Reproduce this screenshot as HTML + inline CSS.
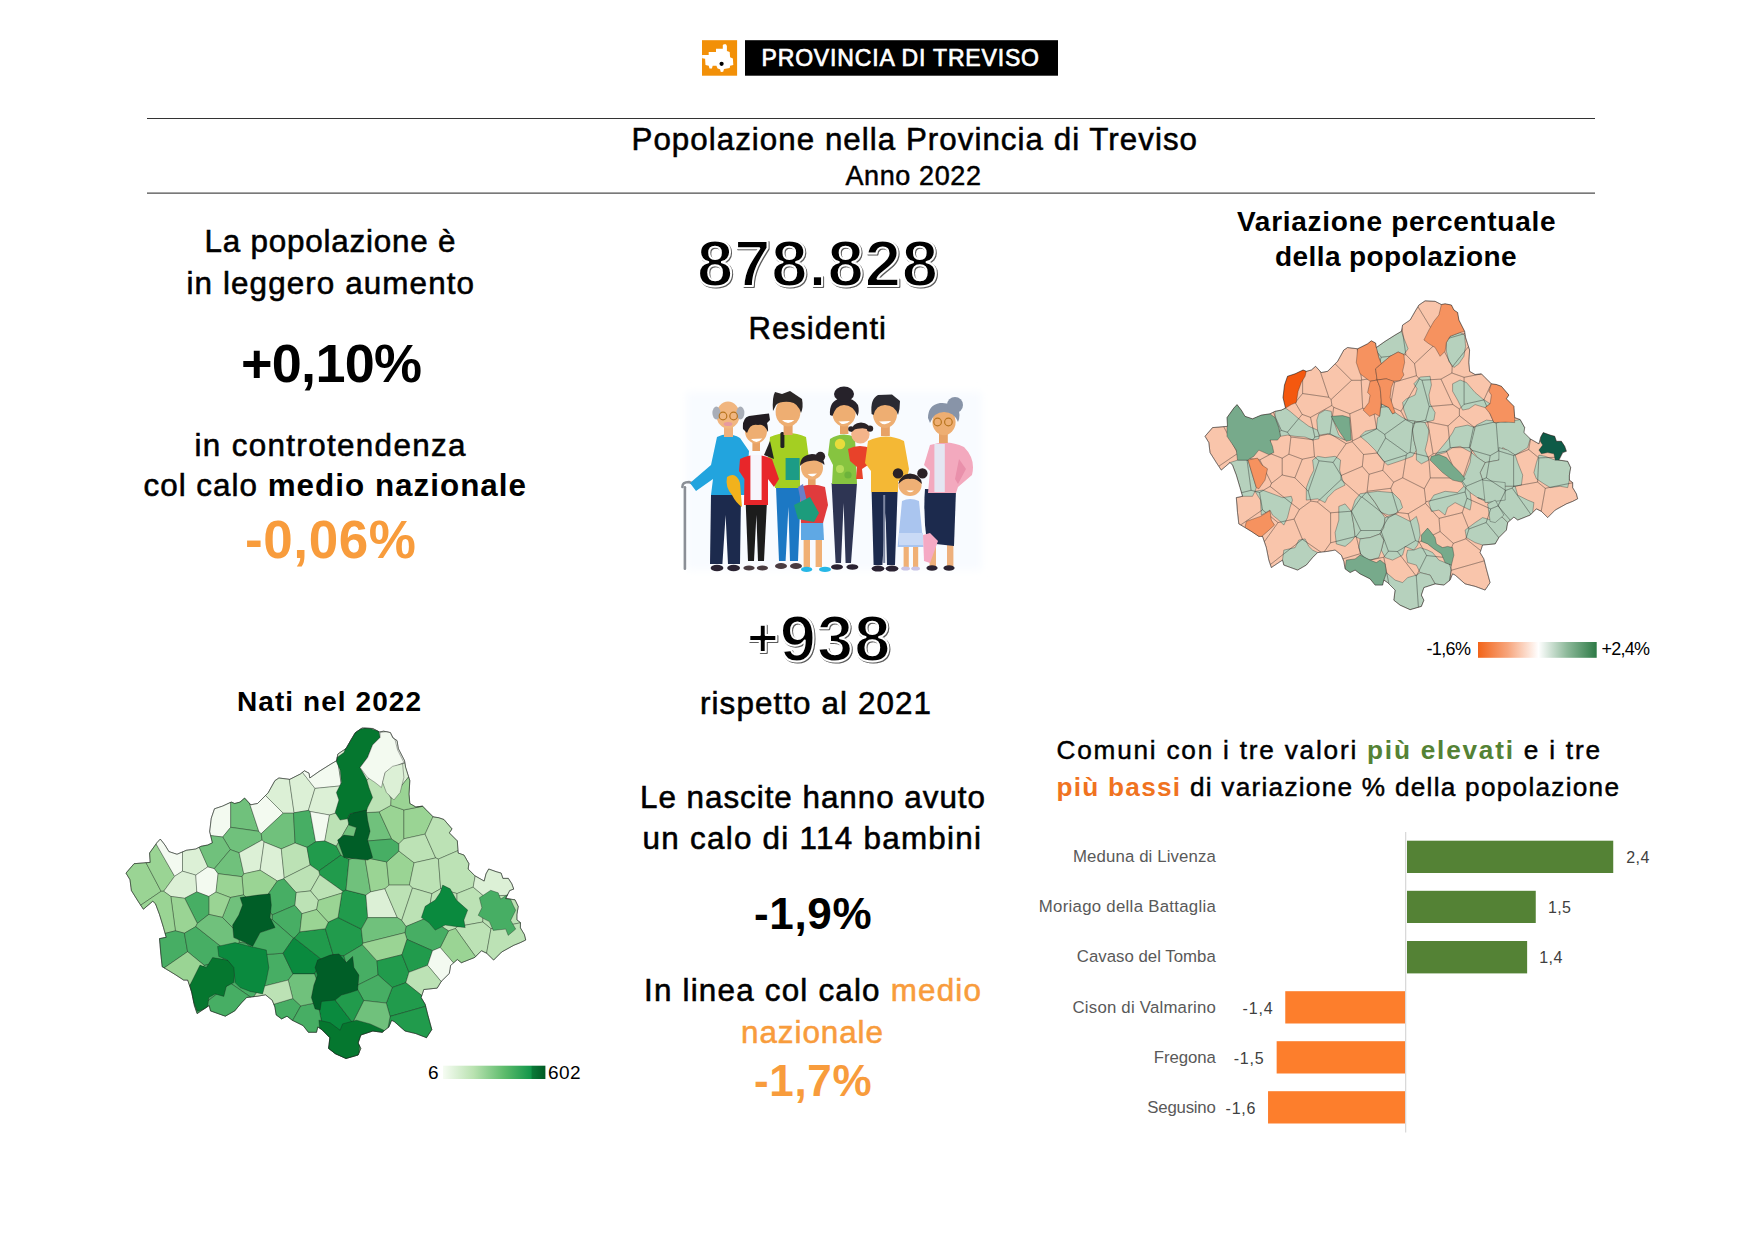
<!DOCTYPE html>
<html lang="it">
<head>
<meta charset="utf-8">
<title>Popolazione nella Provincia di Treviso - Anno 2022</title>
<style>
html,body{margin:0;padding:0;background:#fff;}
body{width:1755px;height:1240px;overflow:hidden;}
svg{display:block;}
text{font-family:"Liberation Sans","DejaVu Sans",sans-serif;white-space:pre;}
.sh{stroke:#fff;stroke-width:2px;stroke-linejoin:round;filter:drop-shadow(1.8px 1.8px 0.6px rgba(50,50,50,.8));}
</style>
</head>
<body>
<svg width="1755" height="1240" viewBox="0 0 1755 1240">
<rect x="702.00" y="40.20" width="35.10" height="35.50" fill="#f29008"/>
<polygon points="702.1,55.0 708.7,55.0 708.7,52.0 716.0,52.0 716.0,48.7 722.8,48.7 722.8,45.1 724.0,44.3 726.0,44.3 726.9,45.9 726.9,51.1 729.7,52.0 730.1,57.2 732.9,58.4 733.3,64.9 730.1,65.7 729.7,68.1 724.0,68.9 723.2,71.7 720.8,72.1 720.0,69.3 717.6,68.5 716.4,65.7 712.7,65.7 711.9,68.5 709.5,68.5 708.7,65.7 705.5,64.9 705.1,58.8 702.1,58.2" fill="#fff"/>
<circle cx="721.6" cy="63.8" r="2.1" fill="#000"/>
<rect x="745.00" y="40.20" width="313.00" height="35.50" fill="#000"/>
<text x="761.5" y="66.4" font-size="23" textLength="277.5" lengthAdjust="spacing" fill="#fff" stroke="#fff" stroke-width="0.7">PROVINCIA DI TREVISO</text>
<rect x="147.00" y="118.00" width="1448.00" height="1.00" fill="#333"/>
<rect x="147.00" y="192.60" width="1448.00" height="1.00" fill="#222"/>
<text x="631.5" y="150.0" font-size="31.3" textLength="565.5" lengthAdjust="spacing" stroke="#000" stroke-width="0.56">Popolazione nella Provincia di Treviso</text>
<text x="845.5" y="185.0" font-size="27" textLength="135.5" lengthAdjust="spacing" stroke="#000" stroke-width="0.49">Anno 2022</text>
<text x="204.5" y="252.0" font-size="31.4" textLength="251.0" lengthAdjust="spacing" stroke="#000" stroke-width="0.57">La popolazione è</text>
<text x="186.5" y="294.0" font-size="31.4" textLength="287.5" lengthAdjust="spacing" stroke="#000" stroke-width="0.57">in leggero aumento</text>
<text x="241.0" y="381.6" font-size="54" textLength="181.0" lengthAdjust="spacing" font-weight="bold">+0,10%</text>
<text x="194.5" y="455.7" font-size="31.4" textLength="271.0" lengthAdjust="spacing" stroke="#000" stroke-width="0.57">in controtendenza</text>
<text x="143.5" y="495.6" font-size="31.4" textLength="382.5" lengthAdjust="spacing" stroke="#000" stroke-width="0.57">col calo <tspan font-weight="bold" stroke="none">medio nazionale</tspan></text>
<text x="245.0" y="557.5" font-size="53" textLength="171.0" lengthAdjust="spacing" font-weight="bold" fill="#f89c3c">-0,06%</text>
<text x="237.0" y="710.8" font-size="28" textLength="184.0" lengthAdjust="spacing" font-weight="bold">Nati nel 2022</text>
<text x="697.0" y="286.0" font-size="65" textLength="241.0" lengthAdjust="spacing" font-weight="bold" class="sh">878.828</text>
<text x="748.5" y="339.4" font-size="31" textLength="137.5" lengthAdjust="spacing" stroke="#000" stroke-width="0.56">Residenti</text>
<text x="747.0" y="660.5" font-size="65" textLength="143.5" lengthAdjust="spacing" font-weight="bold" class="sh"><tspan font-size="54" dy="-5">+</tspan><tspan dy="5">938</tspan></text>
<text x="700.0" y="713.8" font-size="31.4" textLength="231.0" lengthAdjust="spacing" stroke="#000" stroke-width="0.57">rispetto al 2021</text>
<text x="640.0" y="807.5" font-size="31.4" textLength="345.0" lengthAdjust="spacing" stroke="#000" stroke-width="0.57">Le nascite hanno avuto</text>
<text x="642.5" y="849.0" font-size="31.4" textLength="338.5" lengthAdjust="spacing" stroke="#000" stroke-width="0.57">un calo di 114 bambini</text>
<text x="754.0" y="928.8" font-size="44" textLength="117.5" lengthAdjust="spacing" font-weight="bold">-1,9%</text>
<text x="644.0" y="1000.5" font-size="31.4" textLength="337.0" lengthAdjust="spacing" stroke="#000" stroke-width="0.57">In linea col calo <tspan fill="#f89c3c" stroke="#f89c3c">medio</tspan></text>
<text x="741.0" y="1042.5" font-size="31.4" textLength="142.0" lengthAdjust="spacing" fill="#f89c3c" stroke="#f89c3c" stroke-width="0.57">nazionale</text>
<text x="754.0" y="1096.0" font-size="44" textLength="117.5" lengthAdjust="spacing" font-weight="bold" fill="#f89c3c">-1,7%</text>
<text x="1237.0" y="230.5" font-size="28" textLength="318.5" lengthAdjust="spacing" font-weight="bold">Variazione percentuale</text>
<text x="1275.0" y="265.5" font-size="28" textLength="241.5" lengthAdjust="spacing" font-weight="bold">della popolazione</text>
<defs><linearGradient id="gv" x1="0" x2="1" y1="0" y2="0"><stop offset="0" stop-color="#f26419"/><stop offset="0.25" stop-color="#f7a57c"/><stop offset="0.51" stop-color="#ffffff"/><stop offset="0.75" stop-color="#8db99a"/><stop offset="1" stop-color="#2d7a46"/></linearGradient><linearGradient id="gn" x1="0" x2="1" y1="0" y2="0"><stop offset="0" stop-color="#f6fcf3"/><stop offset="0.3" stop-color="#b9e2b0"/><stop offset="0.6" stop-color="#5dbb6c"/><stop offset="0.86" stop-color="#12964a"/><stop offset="0.87" stop-color="#0b7a38"/><stop offset="1" stop-color="#005a24"/></linearGradient></defs>
<rect x="1478" y="642" width="118.7" height="15.8" fill="url(#gv)"/>
<text x="1426.5" y="654.6" font-size="18" textLength="44.5" lengthAdjust="spacing">-1,6%</text>
<text x="1601.5" y="654.6" font-size="18" textLength="48.5" lengthAdjust="spacing">+2,4%</text>
<rect x="443" y="1065.7" width="102.4" height="13.3" fill="url(#gn)"/>
<text x="428.0" y="1078.9" font-size="19" textLength="10.2" lengthAdjust="spacing">6</text>
<text x="548.0" y="1078.9" font-size="19" textLength="32.5" lengthAdjust="spacing">602</text>
<text x="1056.5" y="758.8" font-size="26.2" textLength="543.5" lengthAdjust="spacing" stroke="#000" stroke-width="0.47">Comuni con i tre valori <tspan fill="#548235" font-weight="bold" stroke="none">più elevati</tspan> e i tre</text>
<text x="1056.5" y="796.3" font-size="26.2" textLength="562.5" lengthAdjust="spacing" stroke="#000" stroke-width="0.47"><tspan fill="#f0731f" font-weight="bold" stroke="none">più bassi</tspan> di variazione % della popolazione</text>
<rect x="1405.00" y="832.00" width="1.30" height="300.50" fill="#d9d9d9"/>
<rect x="1407.00" y="840.70" width="206.24" height="32.30" fill="#548235"/>
<rect x="1407.00" y="890.80" width="128.75" height="32.20" fill="#548235"/>
<rect x="1407.00" y="941.00" width="120.14" height="32.40" fill="#548235"/>
<rect x="1285.26" y="991.20" width="119.74" height="32.30" fill="#fd7e2c"/>
<rect x="1276.65" y="1041.20" width="128.35" height="32.30" fill="#fd7e2c"/>
<rect x="1268.04" y="1091.20" width="136.96" height="32.30" fill="#fd7e2c"/>
<text x="1073.0" y="862.0" font-size="16.8" textLength="142.8" lengthAdjust="spacing" fill="#595959">Meduna di Livenza</text>
<text x="1038.8" y="912.0" font-size="16.8" textLength="177.0" lengthAdjust="spacing" fill="#595959">Moriago della Battaglia</text>
<text x="1076.8" y="961.8" font-size="16.8" textLength="139.0" lengthAdjust="spacing" fill="#595959">Cavaso del Tomba</text>
<text x="1072.5" y="1012.5" font-size="16.8" textLength="143.3" lengthAdjust="spacing" fill="#595959">Cison di Valmarino</text>
<text x="1153.8" y="1062.5" font-size="16.8" textLength="62.0" lengthAdjust="spacing" fill="#595959">Fregona</text>
<text x="1147.3" y="1112.5" font-size="16.8" textLength="68.5" lengthAdjust="spacing" fill="#595959">Segusino</text>
<text x="1626.3" y="863.3" font-size="16" textLength="23.0" lengthAdjust="spacing" fill="#404040">2,4</text>
<text x="1548.0" y="912.6" font-size="16" textLength="23.0" lengthAdjust="spacing" fill="#404040">1,5</text>
<text x="1539.3" y="963.0" font-size="16" textLength="23.0" lengthAdjust="spacing" fill="#404040">1,4</text>
<text x="1242.6" y="1013.8" font-size="16" textLength="30.0" lengthAdjust="spacing" fill="#404040">-1,4</text>
<text x="1233.8" y="1063.8" font-size="16" textLength="29.8" lengthAdjust="spacing" fill="#404040">-1,5</text>
<text x="1225.5" y="1113.8" font-size="16" textLength="30.0" lengthAdjust="spacing" fill="#404040">-1,6</text>
<g id="mapvar" stroke="#222" stroke-opacity="0.6" stroke-width="0.55" stroke-linejoin="round">
<clipPath id="cv"><polygon points="1205.0,436.3 1212.5,427.6 1227.5,426.3 1227.0,417.6 1233.8,408.1 1237.0,404.6 1241.3,410.1 1245.0,416.3 1252.5,418.8 1261.3,415.1 1270.0,413.8 1275.0,411.3 1281.3,410.1 1285.5,408.1 1283.0,397.5 1284.5,385.0 1287.5,376.3 1295.1,373.8 1303.1,370.0 1306.3,371.3 1311.3,370.0 1315.6,366.3 1321.3,372.5 1327.6,371.3 1337.6,361.3 1343.8,350.0 1347.6,347.5 1357.6,348.8 1367.6,343.8 1371.3,340.8 1375.6,343.0 1376.3,347.5 1385.1,341.3 1395.1,335.0 1401.4,331.3 1402.6,325.0 1410.1,320.0 1415.1,311.3 1418.9,305.0 1425.1,300.8 1435.1,301.3 1441.4,304.5 1445.1,303.8 1451.4,305.0 1453.9,310.0 1457.6,312.5 1458.9,320.0 1464.6,331.3 1465.6,337.5 1469.6,350.0 1468.9,362.5 1469.6,371.3 1475.1,374.5 1481.4,373.8 1485.1,377.5 1491.4,383.8 1496.4,384.5 1501.4,386.3 1508.9,395.0 1506.4,398.8 1513.9,406.3 1514.7,417.6 1520.2,419.6 1524.7,427.6 1523.9,432.6 1530.2,438.8 1538.9,443.8 1540.7,437.1 1543.2,432.6 1550.2,435.1 1554.7,436.3 1556.4,441.3 1561.4,441.3 1564.7,446.3 1566.4,451.3 1562.7,452.6 1558.9,460.1 1567.7,461.3 1570.7,467.6 1569.4,475.1 1569.4,480.1 1572.7,482.6 1572.7,487.6 1576.4,493.8 1577.7,498.8 1572.7,501.4 1566.4,503.9 1555.2,510.1 1547.7,517.6 1541.4,511.4 1536.4,508.9 1530.2,515.1 1517.7,520.1 1513.9,517.1 1507.7,522.6 1506.4,530.1 1498.9,537.6 1495.2,543.9 1482.6,545.1 1480.1,552.6 1483.9,558.9 1486.4,568.9 1490.1,582.6 1485.1,590.1 1475.1,586.4 1465.1,583.9 1455.1,575.1 1452.6,573.9 1450.1,580.1 1443.9,585.1 1435.1,583.9 1423.9,587.6 1421.4,595.1 1423.9,600.2 1421.4,606.4 1410.1,609.7 1400.1,605.2 1393.8,600.2 1395.1,590.1 1387.6,582.6 1383.8,580.1 1382.6,585.1 1375.1,585.1 1370.1,578.9 1360.1,573.9 1355.1,570.1 1350.1,572.6 1345.1,568.9 1343.8,561.4 1341.3,555.1 1335.1,550.1 1327.6,551.4 1317.6,552.6 1312.6,557.6 1306.3,565.1 1297.6,570.1 1283.8,565.1 1282.5,560.1 1271.3,567.6 1268.8,560.1 1266.3,547.6 1262.5,536.4 1258.8,536.4 1251.3,531.4 1245.0,527.6 1238.8,523.9 1237.5,512.6 1236.3,497.6 1242.5,496.3 1240.0,487.6 1236.3,475.1 1232.5,465.1 1230.0,462.6 1221.3,470.1 1216.3,462.6 1210.0,452.6 1208.8,442.6"/></clipPath>
<polygon points="1205.0,436.3 1212.5,427.6 1227.5,426.3 1227.0,417.6 1233.8,408.1 1237.0,404.6 1241.3,410.1 1245.0,416.3 1252.5,418.8 1261.3,415.1 1270.0,413.8 1275.0,411.3 1281.3,410.1 1285.5,408.1 1283.0,397.5 1284.5,385.0 1287.5,376.3 1295.1,373.8 1303.1,370.0 1306.3,371.3 1311.3,370.0 1315.6,366.3 1321.3,372.5 1327.6,371.3 1337.6,361.3 1343.8,350.0 1347.6,347.5 1357.6,348.8 1367.6,343.8 1371.3,340.8 1375.6,343.0 1376.3,347.5 1385.1,341.3 1395.1,335.0 1401.4,331.3 1402.6,325.0 1410.1,320.0 1415.1,311.3 1418.9,305.0 1425.1,300.8 1435.1,301.3 1441.4,304.5 1445.1,303.8 1451.4,305.0 1453.9,310.0 1457.6,312.5 1458.9,320.0 1464.6,331.3 1465.6,337.5 1469.6,350.0 1468.9,362.5 1469.6,371.3 1475.1,374.5 1481.4,373.8 1485.1,377.5 1491.4,383.8 1496.4,384.5 1501.4,386.3 1508.9,395.0 1506.4,398.8 1513.9,406.3 1514.7,417.6 1520.2,419.6 1524.7,427.6 1523.9,432.6 1530.2,438.8 1538.9,443.8 1540.7,437.1 1543.2,432.6 1550.2,435.1 1554.7,436.3 1556.4,441.3 1561.4,441.3 1564.7,446.3 1566.4,451.3 1562.7,452.6 1558.9,460.1 1567.7,461.3 1570.7,467.6 1569.4,475.1 1569.4,480.1 1572.7,482.6 1572.7,487.6 1576.4,493.8 1577.7,498.8 1572.7,501.4 1566.4,503.9 1555.2,510.1 1547.7,517.6 1541.4,511.4 1536.4,508.9 1530.2,515.1 1517.7,520.1 1513.9,517.1 1507.7,522.6 1506.4,530.1 1498.9,537.6 1495.2,543.9 1482.6,545.1 1480.1,552.6 1483.9,558.9 1486.4,568.9 1490.1,582.6 1485.1,590.1 1475.1,586.4 1465.1,583.9 1455.1,575.1 1452.6,573.9 1450.1,580.1 1443.9,585.1 1435.1,583.9 1423.9,587.6 1421.4,595.1 1423.9,600.2 1421.4,606.4 1410.1,609.7 1400.1,605.2 1393.8,600.2 1395.1,590.1 1387.6,582.6 1383.8,580.1 1382.6,585.1 1375.1,585.1 1370.1,578.9 1360.1,573.9 1355.1,570.1 1350.1,572.6 1345.1,568.9 1343.8,561.4 1341.3,555.1 1335.1,550.1 1327.6,551.4 1317.6,552.6 1312.6,557.6 1306.3,565.1 1297.6,570.1 1283.8,565.1 1282.5,560.1 1271.3,567.6 1268.8,560.1 1266.3,547.6 1262.5,536.4 1258.8,536.4 1251.3,531.4 1245.0,527.6 1238.8,523.9 1237.5,512.6 1236.3,497.6 1242.5,496.3 1240.0,487.6 1236.3,475.1 1232.5,465.1 1230.0,462.6 1221.3,470.1 1216.3,462.6 1210.0,452.6 1208.8,442.6" fill="#f9c5ab"/>
<g clip-path="url(#cv)">
<polygon points="1275.0,411.3 1281.3,410.1 1285.5,408.1 1290.0,411.3 1298.8,418.8 1308.8,426.3 1317.6,430.1 1319.3,435.1 1318.8,438.8 1312.6,440.1 1305.1,437.1 1295.1,436.3 1287.5,435.1 1280.5,436.3 1278.8,427.6 1275.0,417.6" fill="#b6d1bd"/>
<polygon points="1318.8,413.8 1325.1,410.1 1331.3,411.3 1332.1,417.6 1335.1,425.1 1338.8,435.1 1345.1,440.1 1335.1,436.3 1327.6,433.8 1319.3,435.1 1317.6,430.1 1316.8,420.1" fill="#b6d1bd"/>
<polygon points="1376.3,347.5 1385.1,341.3 1395.1,335.0 1401.4,331.3 1404.6,340.0 1408.1,348.8 1403.9,354.5 1398.1,352.0 1390.1,356.3 1381.3,363.8 1378.8,357.5" fill="#b6d1bd"/>
<polygon points="1450.1,336.3 1460.1,332.5 1464.6,335.0 1465.6,346.3 1463.9,356.3 1458.9,363.8 1453.9,367.5 1448.9,361.3 1446.4,351.3 1446.4,342.5" fill="#b6d1bd"/>
<polygon points="1452.6,383.8 1460.1,380.0 1466.4,382.5 1475.1,392.5 1482.6,398.8 1490.1,403.8 1485.1,407.6 1475.1,404.6 1468.9,408.8 1462.6,410.1 1457.6,400.1 1452.6,391.3" fill="#b6d1bd"/>
<polygon points="1413.9,383.8 1420.1,377.0 1430.1,376.3 1431.4,385.0 1428.9,395.0 1430.1,403.8 1435.1,412.6 1433.9,420.1 1425.1,422.6 1415.1,421.3 1407.6,420.1 1403.9,410.1 1402.6,402.6 1406.4,398.8 1415.1,395.0 1417.1,388.8" fill="#b6d1bd"/>
<polygon points="1381.3,403.8 1388.8,407.6 1392.6,413.8 1395.1,412.6 1402.6,417.6 1407.6,420.1 1415.1,421.3 1412.6,430.1 1413.9,440.1 1416.4,450.1 1412.6,456.3 1402.6,460.1 1395.1,462.6 1387.6,465.1 1382.6,460.1 1375.1,450.1 1367.6,442.6 1360.1,436.3 1365.1,431.3 1376.3,428.8 1377.6,417.6 1379.6,416.3" fill="#b6d1bd"/>
<polygon points="1415.1,421.3 1425.1,422.6 1428.9,430.1 1427.6,440.1 1425.1,450.1 1428.9,460.1 1421.4,463.8 1416.4,460.1 1416.4,450.1 1413.9,440.1 1412.6,430.1" fill="#b6d1bd"/>
<polygon points="1455.1,427.6 1467.6,425.1 1475.1,427.6 1472.6,440.1 1470.1,447.6 1471.4,452.6 1460.1,446.3 1452.6,447.6 1445.1,452.6 1435.1,455.1 1441.4,447.6 1447.6,440.1 1452.6,432.6" fill="#b6d1bd"/>
<polygon points="1476.4,425.1 1486.4,420.1 1505.2,422.1 1520.2,419.6 1524.7,427.6 1530.2,438.8 1527.7,447.6 1515.2,455.1 1502.7,447.6 1498.9,460.1 1485.1,462.6 1477.6,457.6 1470.1,447.6 1475.1,427.6" fill="#b6d1bd"/>
<polygon points="1498.9,447.6 1507.7,450.1 1515.2,455.1 1517.7,462.6 1522.7,475.1 1521.4,485.1 1515.2,486.3 1502.7,486.3 1492.6,487.6 1482.6,480.1 1480.1,472.6 1485.1,462.6 1498.9,460.1" fill="#b6d1bd"/>
<polygon points="1471.4,452.6 1477.6,457.6 1485.1,462.6 1480.1,472.6 1482.6,480.1 1492.6,487.6 1495.2,497.6 1485.1,500.1 1477.6,497.6 1470.1,492.6 1463.9,486.3 1461.4,481.3 1465.1,475.1 1470.1,462.6" fill="#b6d1bd"/>
<polygon points="1433.9,495.1 1445.1,491.3 1457.6,492.6 1463.9,486.3 1470.1,492.6 1471.4,502.6 1470.1,510.1 1462.6,506.4 1455.1,502.6 1447.6,507.6 1445.1,515.1 1438.9,510.1 1431.4,511.4 1428.9,502.6" fill="#b6d1bd"/>
<polygon points="1477.6,497.6 1485.1,500.1 1495.2,497.6 1502.7,486.3 1515.2,486.3 1517.7,495.1 1527.7,500.1 1533.9,502.6 1532.7,512.6 1530.2,515.1 1517.7,520.1 1513.9,517.1 1507.7,522.6 1502.7,517.6 1493.9,512.6 1492.6,505.1" fill="#b6d1bd"/>
<polygon points="1475.1,522.6 1482.6,517.6 1491.4,520.1 1493.9,512.6 1502.7,517.6 1507.7,522.6 1506.4,530.1 1498.9,537.6 1495.2,543.9 1482.6,545.1 1475.1,542.6 1466.4,537.6 1465.1,530.1" fill="#b6d1bd"/>
<polygon points="1538.9,455.1 1545.2,456.3 1555.2,460.1 1558.9,460.1 1567.7,461.3 1570.7,467.6 1569.4,475.1 1569.4,480.1 1567.7,487.6 1560.2,486.3 1550.2,487.6 1543.9,483.8 1536.4,478.8 1533.9,472.6 1536.4,462.6" fill="#b6d1bd"/>
<polygon points="1230.0,462.6 1237.5,460.1 1248.0,460.1 1252.5,475.1 1256.3,487.6 1255.0,491.3 1252.5,496.3 1242.5,496.3 1240.0,487.6 1236.3,475.1 1232.5,465.1" fill="#b6d1bd"/>
<polygon points="1255.0,491.3 1262.5,490.1 1272.5,493.8 1282.5,497.6 1291.3,496.3 1292.5,500.1 1290.0,507.6 1287.5,517.6 1283.8,525.1 1278.8,520.1 1272.5,515.1 1270.0,510.1 1261.3,515.1 1260.5,500.1" fill="#b6d1bd"/>
<polygon points="1312.6,460.1 1317.6,456.3 1325.1,457.6 1335.1,456.3 1340.6,460.1 1339.6,470.1 1342.6,480.1 1345.1,485.1 1335.1,490.1 1327.6,497.6 1325.1,502.6 1317.6,498.8 1306.3,500.1 1306.3,487.6 1310.1,477.6 1313.8,470.1" fill="#b6d1bd"/>
<polygon points="1338.8,506.4 1345.1,503.9 1351.3,511.4 1353.8,525.1 1355.1,536.4 1351.3,541.4 1345.1,546.4 1336.3,543.9 1335.1,532.6 1338.8,520.1" fill="#b6d1bd"/>
<polygon points="1360.1,493.8 1367.6,492.6 1375.1,502.6 1381.3,512.6 1385.1,517.6 1383.8,527.6 1380.1,533.9 1370.1,537.6 1360.1,538.9 1355.1,536.4 1353.8,525.1 1351.3,511.4 1355.1,500.1" fill="#b6d1bd"/>
<polygon points="1367.6,492.6 1377.6,491.3 1392.6,492.6 1400.1,500.1 1402.6,507.6 1395.1,513.9 1388.8,515.1 1381.3,512.6 1375.1,502.6" fill="#b6d1bd"/>
<polygon points="1385.1,517.6 1395.1,513.9 1402.6,517.6 1410.1,521.4 1416.4,516.4 1418.9,525.1 1420.1,535.1 1417.6,545.1 1413.9,550.1 1405.1,546.4 1402.6,555.1 1392.6,560.1 1385.1,557.6 1381.3,550.1 1383.8,540.1 1380.1,533.9 1383.8,527.6" fill="#b6d1bd"/>
<polygon points="1360.1,538.9 1370.1,537.6 1380.1,533.9 1383.8,540.1 1381.3,550.1 1378.8,557.6 1370.1,560.1 1361.3,556.4 1358.8,547.6" fill="#b6d1bd"/>
<polygon points="1283.8,550.1 1295.1,547.6 1298.8,540.1 1305.1,538.9 1308.8,546.4 1312.6,550.1 1317.6,552.6 1312.6,557.6 1306.3,565.1 1297.6,570.1 1283.8,565.1 1282.5,560.1" fill="#b6d1bd"/>
<polygon points="1407.6,550.1 1413.9,550.1 1420.1,547.6 1427.6,550.1 1432.6,552.6 1438.9,560.1 1445.1,562.6 1451.4,565.1 1450.1,580.1 1443.9,585.1 1435.1,583.9 1430.1,575.1 1420.1,572.6 1416.4,565.1 1407.6,562.6 1406.4,555.1" fill="#b6d1bd"/>
<polygon points="1386.3,572.6 1395.1,580.1 1402.6,582.6 1407.6,577.6 1416.4,575.1 1420.1,572.6 1430.1,575.1 1435.1,583.9 1423.9,587.6 1421.4,595.1 1423.9,600.2 1421.4,606.4 1410.1,609.7 1400.1,605.2 1393.8,600.2 1395.1,590.1 1387.6,582.6 1383.8,580.1" fill="#b6d1bd"/>
<polygon points="1482.6,480.1 1505.2,482.6 1505.2,500.1 1485.1,502.6" fill="#b6d1bd"/>
<polygon points="1487.6,503.9 1495.2,500.1 1503.9,515.1 1495.2,522.6 1490.1,521.4" fill="#b6d1bd"/>
<polygon points="1295.2,402.6 1302.6,393.5 1302.6,370.2 1295.1,373.8 1287.5,376.3 1284.5,385.0 1283.0,397.5 1283.9,401.3" fill="none" stroke-opacity="0.4"/>
<polygon points="1320.2,371.3 1315.6,366.3 1311.3,370.0 1306.3,371.3 1303.1,370.0 1302.6,370.2 1302.6,393.5 1328.8,397.3" fill="none" stroke-opacity="0.4"/>
<polygon points="1302.6,393.5 1295.2,402.6 1302.2,414.4 1310.5,417.4 1331.9,405.4 1331.1,399.5 1328.8,397.3" fill="none" stroke-opacity="0.4"/>
<polygon points="1331.1,399.5 1351.6,380.3 1335.1,363.8 1327.6,371.3 1321.3,372.5 1320.2,371.3 1328.8,397.3" fill="none" stroke-opacity="0.4"/>
<polygon points="1351.6,380.3 1361.2,380.3 1361.7,380.0 1357.2,348.7 1347.6,347.5 1343.8,350.0 1337.6,361.3 1335.1,363.8" fill="none" stroke-opacity="0.4"/>
<polygon points="1381.2,357.2 1369.5,342.2 1367.6,343.8 1357.6,348.8 1357.2,348.7 1361.7,380.0 1375.0,377.8" fill="none" stroke-opacity="0.4"/>
<polygon points="1405.9,354.7 1402.0,328.3 1401.4,331.3 1395.1,335.0 1385.1,341.3 1376.3,347.5 1375.6,343.0 1371.3,340.8 1369.5,342.2 1381.2,357.2" fill="none" stroke-opacity="0.4"/>
<polygon points="1376.6,378.8 1394.7,382.1 1416.5,375.7 1414.5,363.7 1405.9,354.7 1381.2,357.2 1375.0,377.8" fill="none" stroke-opacity="0.4"/>
<polygon points="1362.7,408.2 1361.2,380.3 1351.6,380.3 1331.1,399.5 1331.9,405.4 1333.7,407.3 1349.8,413.8" fill="none" stroke-opacity="0.4"/>
<polygon points="1381.8,407.1 1376.6,378.8 1375.0,377.8 1361.7,380.0 1361.2,380.3 1362.7,408.2 1373.8,412.4" fill="none" stroke-opacity="0.4"/>
<polygon points="1390.3,406.4 1394.7,382.1 1376.6,378.8 1381.8,407.1" fill="none" stroke-opacity="0.4"/>
<polygon points="1419.4,378.9 1416.5,375.7 1394.7,382.1 1390.3,406.4 1401.0,411.2" fill="none" stroke-opacity="0.4"/>
<polygon points="1237.7,453.4 1223.7,426.6 1212.5,427.6 1205.0,436.3 1208.8,442.6 1210.0,452.6 1216.3,462.6 1218.7,466.3" fill="none" stroke-opacity="0.4"/>
<polygon points="1237.7,453.4 1240.2,453.4 1250.3,439.4 1233.0,409.1 1227.0,417.6 1227.5,426.3 1223.7,426.6" fill="none" stroke-opacity="0.4"/>
<polygon points="1250.3,439.4 1257.7,434.6 1257.7,416.6 1252.5,418.8 1245.0,416.3 1241.3,410.1 1237.0,404.6 1233.8,408.1 1233.0,409.1" fill="none" stroke-opacity="0.4"/>
<polygon points="1273.3,412.2 1270.0,413.8 1261.3,415.1 1257.7,416.6 1257.7,434.6 1270.1,438.2 1281.3,430.4" fill="none" stroke-opacity="0.4"/>
<polygon points="1257.7,434.6 1250.3,439.4 1240.2,453.4 1246.8,458.2 1259.8,459.9 1271.0,453.9 1270.1,438.2" fill="none" stroke-opacity="0.4"/>
<polygon points="1287.4,432.2 1281.3,430.4 1270.1,438.2 1271.0,453.9 1282.2,458.2 1288.9,454.2 1290.9,437.0" fill="none" stroke-opacity="0.4"/>
<polygon points="1302.2,414.4 1295.2,402.6 1283.9,401.3 1285.5,408.1 1281.3,410.1 1275.0,411.3 1273.3,412.2 1281.3,430.4 1287.4,432.2" fill="none" stroke-opacity="0.4"/>
<polygon points="1313.1,439.7 1314.8,437.0 1310.5,417.4 1302.2,414.4 1287.4,432.2 1290.9,437.0" fill="none" stroke-opacity="0.4"/>
<polygon points="1331.9,405.4 1310.5,417.4 1314.8,437.0 1330.0,433.7 1333.7,407.3" fill="none" stroke-opacity="0.4"/>
<polygon points="1333.7,407.3 1330.0,433.7 1346.1,443.7 1352.2,441.7 1352.5,440.9 1349.8,413.8" fill="none" stroke-opacity="0.4"/>
<polygon points="1352.5,440.9 1376.7,428.8 1373.8,412.4 1362.7,408.2 1349.8,413.8" fill="none" stroke-opacity="0.4"/>
<polygon points="1401.0,411.2 1390.3,406.4 1381.8,407.1 1373.8,412.4 1376.7,428.8 1384.7,434.4 1405.4,419.6" fill="none" stroke-opacity="0.4"/>
<polygon points="1410.1,452.3 1413.0,423.4 1405.4,419.6 1384.7,434.4 1385.6,438.0 1407.3,453.5" fill="none" stroke-opacity="0.4"/>
<polygon points="1314.8,437.0 1313.1,439.7 1314.5,456.7 1319.0,460.8 1333.1,462.4 1346.1,443.7 1330.0,433.7" fill="none" stroke-opacity="0.4"/>
<polygon points="1288.9,454.2 1302.3,459.2 1314.5,456.7 1313.1,439.7 1290.9,437.0" fill="none" stroke-opacity="0.4"/>
<polygon points="1385.6,438.0 1384.7,434.4 1376.7,428.8 1352.5,440.9 1352.2,441.7 1363.5,454.5 1377.1,453.0" fill="none" stroke-opacity="0.4"/>
<polygon points="1384.4,461.8 1406.3,455.0 1407.3,453.5 1385.6,438.0 1377.1,453.0" fill="none" stroke-opacity="0.4"/>
<polygon points="1363.5,454.5 1362.3,466.4 1369.0,474.3 1382.8,470.3 1384.4,461.8 1377.1,453.0" fill="none" stroke-opacity="0.4"/>
<polygon points="1346.1,443.7 1333.1,462.4 1341.1,475.5 1362.3,466.4 1363.5,454.5 1352.2,441.7" fill="none" stroke-opacity="0.4"/>
<polygon points="1369.0,474.3 1362.3,466.4 1341.1,475.5 1341.1,479.6 1361.2,497.2 1362.0,497.0 1367.1,491.3" fill="none" stroke-opacity="0.4"/>
<polygon points="1317.3,502.0 1341.1,479.6 1341.1,475.5 1333.1,462.4 1319.0,460.8 1308.3,491.3 1310.9,501.1" fill="none" stroke-opacity="0.4"/>
<polygon points="1302.3,459.2 1294.9,477.8 1308.3,491.3 1319.0,460.8 1314.5,456.7" fill="none" stroke-opacity="0.4"/>
<polygon points="1282.2,458.2 1282.2,475.0 1294.9,477.8 1302.3,459.2 1288.9,454.2" fill="none" stroke-opacity="0.4"/>
<polygon points="1271.0,453.9 1259.8,459.9 1271.5,483.3 1282.2,475.0 1282.2,458.2" fill="none" stroke-opacity="0.4"/>
<polygon points="1246.8,458.2 1251.1,490.3 1259.5,492.5 1270.1,486.4 1271.5,483.3 1259.8,459.9" fill="none" stroke-opacity="0.4"/>
<polygon points="1237.7,453.4 1218.7,466.3 1221.3,470.1 1230.0,462.6 1232.5,465.1 1236.3,475.1 1240.0,487.6 1241.5,492.7 1251.1,490.3 1246.8,458.2 1240.2,453.4" fill="none" stroke-opacity="0.4"/>
<polygon points="1262.5,509.8 1259.5,492.5 1251.1,490.3 1241.5,492.7 1242.5,496.3 1236.3,497.6 1237.5,512.6 1238.8,523.9 1240.6,525.0" fill="none" stroke-opacity="0.4"/>
<polygon points="1270.1,486.4 1259.5,492.5 1262.5,509.8 1278.0,522.6 1294.1,519.1 1299.4,509.5" fill="none" stroke-opacity="0.4"/>
<polygon points="1310.9,501.1 1308.3,491.3 1294.9,477.8 1282.2,475.0 1271.5,483.3 1270.1,486.4 1299.4,509.5" fill="none" stroke-opacity="0.4"/>
<polygon points="1262.5,509.8 1240.6,525.0 1245.0,527.6 1251.3,531.4 1258.8,536.4 1262.5,536.4 1264.3,541.8 1278.0,522.6" fill="none" stroke-opacity="0.4"/>
<polygon points="1278.0,522.6 1264.3,541.8 1266.3,547.6 1268.8,560.1 1270.3,564.6 1302.4,539.3 1294.1,519.1" fill="none" stroke-opacity="0.4"/>
<polygon points="1330.6,512.8 1317.3,502.0 1310.9,501.1 1299.4,509.5 1294.1,519.1 1302.4,539.3 1321.0,552.2 1324.2,551.8 1330.6,542.8" fill="none" stroke-opacity="0.4"/>
<polygon points="1302.4,539.3 1270.3,564.6 1271.3,567.6 1282.5,560.1 1283.8,565.1 1297.6,570.1 1306.3,565.1 1312.6,557.6 1317.6,552.6 1321.0,552.2" fill="none" stroke-opacity="0.4"/>
<polygon points="1356.2,536.4 1360.7,530.5 1351.5,511.2 1330.6,512.8 1330.6,542.8" fill="none" stroke-opacity="0.4"/>
<polygon points="1330.6,512.8 1351.5,511.2 1361.2,497.2 1341.1,479.6 1317.3,502.0" fill="none" stroke-opacity="0.4"/>
<polygon points="1361.2,497.2 1351.5,511.2 1360.7,530.5 1380.8,530.5 1388.3,517.7 1362.0,497.0" fill="none" stroke-opacity="0.4"/>
<polygon points="1367.1,491.3 1362.0,497.0 1388.3,517.7 1398.1,512.5 1390.8,488.3" fill="none" stroke-opacity="0.4"/>
<polygon points="1398.1,512.5 1408.2,513.7 1425.4,503.3 1425.9,501.8 1424.3,488.7 1402.7,477.8 1393.6,482.2 1390.8,488.3" fill="none" stroke-opacity="0.4"/>
<polygon points="1406.3,455.0 1402.7,477.8 1424.3,488.7 1430.3,477.9 1428.7,456.9 1410.1,452.3 1407.3,453.5" fill="none" stroke-opacity="0.4"/>
<polygon points="1393.6,482.2 1382.8,470.3 1369.0,474.3 1367.1,491.3 1390.8,488.3" fill="none" stroke-opacity="0.4"/>
<polygon points="1382.8,470.3 1393.6,482.2 1402.7,477.8 1406.3,455.0 1384.4,461.8" fill="none" stroke-opacity="0.4"/>
<polygon points="1408.2,513.7 1398.1,512.5 1388.3,517.7 1380.8,530.5 1388.4,551.2 1397.4,551.5 1415.5,540.6" fill="none" stroke-opacity="0.4"/>
<polygon points="1440.1,531.5 1439.0,518.4 1425.4,503.3 1408.2,513.7 1415.5,540.6 1419.1,542.0" fill="none" stroke-opacity="0.4"/>
<polygon points="1425.6,420.2 1413.0,423.4 1410.1,452.3 1428.7,456.9 1433.1,453.9 1427.7,421.8" fill="none" stroke-opacity="0.4"/>
<polygon points="1427.7,421.8 1433.1,453.9 1446.4,451.0 1450.2,447.6 1448.0,425.9" fill="none" stroke-opacity="0.4"/>
<polygon points="1450.2,447.6 1469.2,447.6 1473.6,426.8 1459.4,415.7 1448.0,425.9" fill="none" stroke-opacity="0.4"/>
<polygon points="1441.0,379.1 1422.0,380.2 1429.2,406.5 1452.8,404.5" fill="none" stroke-opacity="0.4"/>
<polygon points="1459.4,415.7 1459.4,409.0 1452.8,404.5 1429.2,406.5 1425.6,420.2 1427.7,421.8 1448.0,425.9" fill="none" stroke-opacity="0.4"/>
<polygon points="1464.1,404.3 1464.1,377.3 1451.9,373.0 1441.0,379.1 1452.8,404.5 1459.4,409.0" fill="none" stroke-opacity="0.4"/>
<polygon points="1483.9,399.9 1491.3,383.7 1485.1,377.5 1481.5,373.9 1464.1,377.3 1464.1,404.3" fill="none" stroke-opacity="0.4"/>
<polygon points="1459.4,415.7 1473.6,426.8 1493.8,422.2 1483.9,399.9 1464.1,404.3 1459.4,409.0" fill="none" stroke-opacity="0.4"/>
<polygon points="1514.5,415.4 1513.9,406.3 1506.4,398.8 1508.9,395.0 1501.4,386.3 1496.4,384.5 1491.4,383.8 1491.3,383.7 1483.9,399.9 1493.8,422.2 1496.2,423.2" fill="none" stroke-opacity="0.4"/>
<polygon points="1493.8,422.2 1473.6,426.8 1469.2,447.6 1472.1,450.3 1490.2,455.6 1498.4,450.9 1496.2,423.2" fill="none" stroke-opacity="0.4"/>
<polygon points="1496.2,423.2 1498.4,450.9 1513.6,455.5 1528.7,449.5 1530.6,439.1 1530.2,438.8 1523.9,432.6 1524.7,427.6 1520.2,419.6 1514.7,417.6 1514.5,415.4" fill="none" stroke-opacity="0.4"/>
<polygon points="1428.7,456.9 1430.3,477.9 1457.9,477.9 1446.4,451.0 1433.1,453.9" fill="none" stroke-opacity="0.4"/>
<polygon points="1457.9,477.9 1462.0,480.6 1472.1,450.3 1469.2,447.6 1450.2,447.6 1446.4,451.0" fill="none" stroke-opacity="0.4"/>
<polygon points="1486.4,477.8 1490.2,455.6 1472.1,450.3 1462.0,480.6 1466.0,486.3" fill="none" stroke-opacity="0.4"/>
<polygon points="1505.7,490.4 1512.2,488.1 1513.6,486.4 1513.6,455.5 1498.4,450.9 1490.2,455.6 1486.4,477.8" fill="none" stroke-opacity="0.4"/>
<polygon points="1537.6,482.1 1538.8,457.9 1528.7,449.5 1513.6,455.5 1513.6,486.4" fill="none" stroke-opacity="0.4"/>
<polygon points="1538.8,457.9 1537.6,482.1 1545.3,488.3 1572.7,482.8 1572.7,482.6 1569.4,480.1 1569.4,475.1 1570.7,467.6 1567.7,461.3 1558.9,460.1 1560.4,457.1" fill="none" stroke-opacity="0.4"/>
<polygon points="1538.8,457.9 1560.4,457.1 1562.7,452.6 1566.4,451.3 1564.7,446.3 1561.4,441.3 1556.4,441.3 1554.7,436.3 1550.2,435.1 1543.2,432.6 1540.7,437.1 1538.9,443.8 1530.6,439.1 1528.7,449.5" fill="none" stroke-opacity="0.4"/>
<polygon points="1545.3,488.3 1537.6,482.1 1513.6,486.4 1512.2,488.1 1530.9,514.4 1536.4,508.9 1541.2,511.2" fill="none" stroke-opacity="0.4"/>
<polygon points="1545.3,488.3 1541.2,511.2 1541.4,511.4 1547.7,517.6 1555.2,510.1 1566.4,503.9 1572.7,501.4 1577.7,498.8 1576.4,493.8 1572.7,487.6 1572.7,482.8" fill="none" stroke-opacity="0.4"/>
<polygon points="1510.3,520.3 1513.9,517.1 1517.7,520.1 1530.2,515.1 1530.9,514.4 1512.2,488.1 1505.7,490.4 1498.0,505.9" fill="none" stroke-opacity="0.4"/>
<polygon points="1467.0,498.3 1490.7,508.9 1498.0,505.9 1505.7,490.4 1486.4,477.8 1466.0,486.3 1465.1,492.0" fill="none" stroke-opacity="0.4"/>
<polygon points="1466.0,486.3 1462.0,480.6 1457.9,477.9 1430.3,477.9 1424.3,488.7 1425.9,501.8 1465.1,492.0" fill="none" stroke-opacity="0.4"/>
<polygon points="1425.9,501.8 1425.4,503.3 1439.0,518.4 1462.3,512.6 1467.0,498.3 1465.1,492.0" fill="none" stroke-opacity="0.4"/>
<polygon points="1462.3,512.6 1439.0,518.4 1440.1,531.5 1453.3,543.3 1465.9,538.8 1468.9,529.0" fill="none" stroke-opacity="0.4"/>
<polygon points="1462.3,512.6 1468.9,529.0 1486.2,522.5 1490.7,508.9 1467.0,498.3" fill="none" stroke-opacity="0.4"/>
<polygon points="1486.2,522.5 1498.8,537.7 1498.9,537.6 1506.4,530.1 1507.7,522.6 1510.3,520.3 1498.0,505.9 1490.7,508.9" fill="none" stroke-opacity="0.4"/>
<polygon points="1486.2,522.5 1468.9,529.0 1465.9,538.8 1480.8,550.7 1482.6,545.1 1495.2,543.9 1498.8,537.7" fill="none" stroke-opacity="0.4"/>
<polygon points="1465.9,538.8 1453.3,543.3 1447.7,557.8 1451.3,570.3 1484.4,560.8 1483.9,558.9 1480.1,552.6 1480.8,550.7" fill="none" stroke-opacity="0.4"/>
<polygon points="1451.3,570.3 1449.3,580.8 1450.1,580.1 1452.6,573.9 1455.1,575.1 1465.1,583.9 1475.1,586.4 1485.1,590.1 1490.1,582.6 1486.4,568.9 1484.4,560.8" fill="none" stroke-opacity="0.4"/>
<polygon points="1426.6,555.5 1447.7,557.8 1453.3,543.3 1440.1,531.5 1419.1,542.0" fill="none" stroke-opacity="0.4"/>
<polygon points="1451.3,570.3 1447.7,557.8 1426.6,555.5 1416.3,576.2 1418.4,607.3 1421.4,606.4 1423.9,600.2 1421.4,595.1 1423.9,587.6 1435.1,583.9 1443.9,585.1 1449.3,580.8" fill="none" stroke-opacity="0.4"/>
<polygon points="1388.4,551.2 1383.8,557.2 1388.9,584.0 1395.1,590.1 1393.8,600.2 1400.1,605.2 1410.1,609.7 1418.4,607.3 1416.3,576.2 1397.4,551.5" fill="none" stroke-opacity="0.4"/>
<polygon points="1415.5,540.6 1397.4,551.5 1416.3,576.2 1426.6,555.5 1419.1,542.0" fill="none" stroke-opacity="0.4"/>
<polygon points="1342.8,558.9 1343.8,561.4 1345.1,568.9 1350.1,572.6 1355.1,570.1 1360.1,573.9 1360.4,574.1 1367.9,560.5 1360.5,553.6" fill="none" stroke-opacity="0.4"/>
<polygon points="1360.4,574.1 1370.1,578.9 1375.1,585.1 1382.6,585.1 1383.8,580.1 1387.6,582.6 1388.9,584.0 1383.8,557.2 1367.9,560.5" fill="none" stroke-opacity="0.4"/>
<polygon points="1360.5,553.6 1367.9,560.5 1383.8,557.2 1388.4,551.2 1380.8,530.5 1360.7,530.5 1356.2,536.4" fill="none" stroke-opacity="0.4"/>
<polygon points="1360.5,553.6 1356.2,536.4 1330.6,542.8 1324.2,551.8 1327.6,551.4 1335.1,550.1 1341.3,555.1 1342.8,558.9" fill="none" stroke-opacity="0.4"/>
<polygon points="1438.7,340.9 1417.9,306.6 1415.1,311.3 1410.1,320.0 1402.6,325.0 1402.0,328.3 1405.9,354.7 1414.5,363.7" fill="none" stroke-opacity="0.4"/>
<polygon points="1413.0,423.4 1425.6,420.2 1429.2,406.5 1422.0,380.2 1419.4,378.9 1401.0,411.2 1405.4,419.6" fill="none" stroke-opacity="0.4"/>
<polygon points="1438.7,340.9 1439.2,341.0 1465.0,333.5 1464.6,331.3 1458.9,320.0 1457.6,312.5 1453.9,310.0 1451.4,305.0 1445.1,303.8 1441.4,304.5 1435.1,301.3 1425.1,300.8 1418.9,305.0 1417.9,306.6" fill="none" stroke-opacity="0.4"/>
<polygon points="1439.2,341.0 1452.2,367.0 1468.5,346.5 1465.6,337.5 1465.0,333.5" fill="none" stroke-opacity="0.4"/>
<polygon points="1451.9,373.0 1452.2,367.0 1439.2,341.0 1438.7,340.9 1414.5,363.7 1416.5,375.7 1419.4,378.9 1422.0,380.2 1441.0,379.1" fill="none" stroke-opacity="0.4"/>
<polygon points="1481.5,373.9 1481.4,373.8 1475.1,374.5 1469.6,371.3 1468.9,362.5 1469.6,350.0 1468.5,346.5 1452.2,367.0 1451.9,373.0 1464.1,377.3" fill="none" stroke-opacity="0.4"/>
<polygon points="1237.0,404.6 1241.3,410.1 1245.0,416.3 1252.5,418.8 1261.3,415.1 1270.0,413.8 1275.0,417.6 1278.8,427.6 1280.5,436.3 1277.5,440.1 1270.0,440.1 1272.5,446.3 1273.8,452.6 1268.8,454.6 1258.8,450.1 1253.8,456.3 1247.5,460.1 1237.5,460.1 1236.3,450.1 1227.0,436.3 1227.0,426.3 1227.0,417.6 1233.8,408.1" fill="#77aa8b"/>
<polygon points="1248.0,460.1 1257.5,458.1 1262.0,465.1 1267.5,468.8 1265.0,480.1 1258.8,488.8 1256.3,487.6 1252.5,475.1" fill="#f6925f"/>
<polygon points="1303.1,370.0 1306.3,371.3 1305.1,376.3 1301.3,382.5 1298.1,391.3 1296.3,402.6 1291.3,404.6 1285.5,408.1 1283.0,397.5 1284.5,385.0 1287.5,376.3 1295.1,373.8" fill="#f4580f"/>
<polygon points="1331.3,416.3 1342.6,415.6 1349.6,417.6 1350.6,430.1 1351.3,440.1 1346.3,441.3 1340.1,432.6 1335.1,423.8" fill="#77aa8b"/>
<polygon points="1357.6,348.8 1367.6,343.8 1371.3,340.8 1375.6,343.0 1376.3,347.5 1378.8,357.5 1381.3,363.8 1375.6,368.8 1377.1,380.0 1370.1,381.3 1360.1,373.8 1356.3,362.5" fill="#f6925f"/>
<polygon points="1381.3,363.8 1390.1,356.3 1398.1,352.0 1403.9,354.5 1404.6,362.5 1402.6,371.3 1403.9,375.0 1400.1,380.5 1392.6,381.3 1386.3,378.8 1377.1,380.0 1375.6,368.8" fill="#f6925f"/>
<polygon points="1370.1,381.3 1377.1,380.0 1380.1,387.5 1381.3,400.1 1379.6,416.3 1375.1,413.8 1369.6,416.3 1363.1,410.1 1368.8,402.6 1370.1,395.0 1367.6,392.5" fill="#f6925f"/>
<polygon points="1377.1,380.0 1386.3,378.8 1393.8,381.3 1391.3,387.5 1390.1,397.5 1392.6,405.1 1395.1,412.6 1392.6,413.8 1388.8,407.6 1381.3,403.8 1381.3,400.1 1380.1,387.5" fill="#f6925f"/>
<polygon points="1441.4,304.5 1445.1,303.8 1451.4,305.0 1453.9,310.0 1457.6,312.5 1458.9,320.0 1464.6,331.3 1460.1,332.5 1450.1,336.3 1446.4,342.5 1445.1,351.3 1440.1,356.3 1435.1,347.5 1428.9,343.8 1423.9,340.0 1428.9,330.0 1433.9,321.3 1438.9,315.0" fill="#f6925f"/>
<polygon points="1491.4,383.8 1496.4,384.5 1501.4,386.3 1508.9,395.0 1506.4,398.8 1513.9,406.3 1514.7,417.6 1514.7,422.6 1505.2,422.1 1493.9,422.6 1490.1,413.8 1485.1,407.6 1490.1,403.8 1491.4,395.0 1488.9,391.3" fill="#f6925f"/>
<polygon points="1540.7,437.1 1543.2,432.6 1550.2,435.1 1554.7,436.3 1556.4,441.3 1561.4,441.3 1564.7,446.3 1566.4,451.3 1562.7,452.6 1558.9,460.1 1555.2,460.1 1553.9,453.8 1547.7,452.6 1541.4,453.8 1538.9,450.1 1542.7,445.1 1540.2,441.3" fill="#0e5b47"/>
<polygon points="1431.4,456.3 1438.9,454.6 1446.4,457.6 1452.6,465.1 1460.1,472.6 1465.1,478.8 1461.4,482.1 1452.6,480.1 1442.6,472.6 1435.1,465.1 1430.1,460.1" fill="#77aa8b"/>
<polygon points="1246.3,521.4 1260.5,516.4 1270.0,510.6 1271.3,520.1 1274.5,525.1 1267.5,531.4 1260.5,537.6 1251.3,531.4 1245.0,527.6" fill="#f6925f"/>
<polygon points="1346.3,560.1 1355.1,558.9 1360.1,555.1 1370.1,560.1 1376.3,562.6 1380.1,560.1 1385.1,563.9 1386.3,572.6 1383.8,580.1 1382.6,585.1 1375.1,585.1 1370.1,578.9 1360.1,573.9 1355.1,570.1 1350.1,572.6 1345.1,568.9" fill="#77aa8b"/>
<polygon points="1421.4,535.1 1427.6,528.1 1431.4,532.6 1435.1,537.6 1436.4,543.9 1442.6,547.6 1447.6,546.4 1452.6,547.6 1453.9,555.1 1451.4,565.1 1445.1,562.6 1441.4,553.9 1433.9,548.9 1427.6,543.9 1421.4,541.4" fill="#77aa8b"/>
</g>
<polygon points="1205.0,436.3 1212.5,427.6 1227.5,426.3 1227.0,417.6 1233.8,408.1 1237.0,404.6 1241.3,410.1 1245.0,416.3 1252.5,418.8 1261.3,415.1 1270.0,413.8 1275.0,411.3 1281.3,410.1 1285.5,408.1 1283.0,397.5 1284.5,385.0 1287.5,376.3 1295.1,373.8 1303.1,370.0 1306.3,371.3 1311.3,370.0 1315.6,366.3 1321.3,372.5 1327.6,371.3 1337.6,361.3 1343.8,350.0 1347.6,347.5 1357.6,348.8 1367.6,343.8 1371.3,340.8 1375.6,343.0 1376.3,347.5 1385.1,341.3 1395.1,335.0 1401.4,331.3 1402.6,325.0 1410.1,320.0 1415.1,311.3 1418.9,305.0 1425.1,300.8 1435.1,301.3 1441.4,304.5 1445.1,303.8 1451.4,305.0 1453.9,310.0 1457.6,312.5 1458.9,320.0 1464.6,331.3 1465.6,337.5 1469.6,350.0 1468.9,362.5 1469.6,371.3 1475.1,374.5 1481.4,373.8 1485.1,377.5 1491.4,383.8 1496.4,384.5 1501.4,386.3 1508.9,395.0 1506.4,398.8 1513.9,406.3 1514.7,417.6 1520.2,419.6 1524.7,427.6 1523.9,432.6 1530.2,438.8 1538.9,443.8 1540.7,437.1 1543.2,432.6 1550.2,435.1 1554.7,436.3 1556.4,441.3 1561.4,441.3 1564.7,446.3 1566.4,451.3 1562.7,452.6 1558.9,460.1 1567.7,461.3 1570.7,467.6 1569.4,475.1 1569.4,480.1 1572.7,482.6 1572.7,487.6 1576.4,493.8 1577.7,498.8 1572.7,501.4 1566.4,503.9 1555.2,510.1 1547.7,517.6 1541.4,511.4 1536.4,508.9 1530.2,515.1 1517.7,520.1 1513.9,517.1 1507.7,522.6 1506.4,530.1 1498.9,537.6 1495.2,543.9 1482.6,545.1 1480.1,552.6 1483.9,558.9 1486.4,568.9 1490.1,582.6 1485.1,590.1 1475.1,586.4 1465.1,583.9 1455.1,575.1 1452.6,573.9 1450.1,580.1 1443.9,585.1 1435.1,583.9 1423.9,587.6 1421.4,595.1 1423.9,600.2 1421.4,606.4 1410.1,609.7 1400.1,605.2 1393.8,600.2 1395.1,590.1 1387.6,582.6 1383.8,580.1 1382.6,585.1 1375.1,585.1 1370.1,578.9 1360.1,573.9 1355.1,570.1 1350.1,572.6 1345.1,568.9 1343.8,561.4 1341.3,555.1 1335.1,550.1 1327.6,551.4 1317.6,552.6 1312.6,557.6 1306.3,565.1 1297.6,570.1 1283.8,565.1 1282.5,560.1 1271.3,567.6 1268.8,560.1 1266.3,547.6 1262.5,536.4 1258.8,536.4 1251.3,531.4 1245.0,527.6 1238.8,523.9 1237.5,512.6 1236.3,497.6 1242.5,496.3 1240.0,487.6 1236.3,475.1 1232.5,465.1 1230.0,462.6 1221.3,470.1 1216.3,462.6 1210.0,452.6 1208.8,442.6" fill="none"/>
</g>
<g id="mapnati" stroke="#1a1a1a" stroke-opacity="0.62" stroke-width="0.55" stroke-linejoin="round">
<polygon points="126.0,873.1 134.1,863.7 150.2,862.4 149.6,853.0 156.9,842.8 160.3,839.1 164.9,845.0 168.9,851.6 177.0,854.3 186.4,850.3 195.8,849.0 201.1,846.3 207.8,845.0 212.4,842.8 209.7,831.6 211.3,818.2 214.5,808.8 222.6,806.1 231.2,802.1 234.7,803.5 240.0,802.1 244.6,798.1 250.8,804.8 257.5,803.5 268.2,792.8 274.9,780.7 278.9,778.0 289.7,779.4 300.4,774.0 304.4,770.8 309.0,773.2 309.8,778.0 319.2,771.4 329.9,764.7 336.6,760.7 337.9,754.0 346.0,748.6 351.4,739.2 355.4,732.6 362.1,728.0 372.8,728.5 379.5,732.0 383.6,731.2 390.3,732.6 392.9,737.9 397.0,740.6 398.3,748.6 404.5,760.7 405.6,767.3 409.8,780.7 409.0,794.1 409.8,803.5 415.8,807.0 422.5,806.1 426.5,810.2 433.2,816.9 438.6,817.7 443.9,819.5 452.0,828.9 449.3,832.9 457.3,840.9 458.1,853.0 464.0,855.1 468.9,863.7 468.1,869.0 474.8,875.7 484.2,881.1 486.0,873.9 488.7,869.0 496.2,871.7 501.1,873.1 502.9,878.4 508.3,878.4 511.8,883.8 513.7,889.1 509.7,890.5 505.6,898.5 515.0,899.8 518.2,906.5 516.9,914.5 516.9,919.9 520.4,922.6 520.4,927.9 524.4,934.6 525.7,940.0 520.4,942.6 513.7,945.3 501.6,952.0 493.6,960.0 486.8,953.3 481.5,950.7 474.8,957.4 461.4,962.7 457.3,959.5 450.6,965.4 449.3,973.4 441.2,981.4 437.2,988.1 423.8,989.5 421.1,997.5 425.1,1004.2 427.8,1014.9 431.8,1029.6 426.5,1037.7 415.8,1033.6 405.0,1031.0 394.3,1021.6 391.6,1020.3 388.9,1026.9 382.2,1032.3 372.8,1031.0 360.8,1035.0 358.1,1043.0 360.8,1048.4 358.1,1055.0 346.0,1058.5 335.3,1053.7 328.6,1048.4 329.9,1037.7 321.9,1029.6 317.8,1026.9 316.5,1032.3 308.4,1032.3 303.1,1025.6 292.3,1020.3 287.0,1016.2 281.6,1018.9 276.2,1014.9 274.9,1006.9 272.2,1000.2 265.5,994.8 257.5,996.2 246.7,997.5 241.4,1002.9 234.7,1010.9 225.3,1016.2 210.5,1010.9 209.2,1005.5 197.1,1013.6 194.4,1005.5 191.7,992.2 187.7,980.1 183.7,980.1 175.6,974.8 168.9,970.7 162.2,966.7 160.9,954.7 159.5,938.6 166.2,937.3 163.6,927.9 159.5,914.5 155.5,903.8 152.8,901.2 143.4,909.2 138.1,901.2 131.4,890.5 130.0,879.7" fill="#70c17c"/>
<polygon points="222.7,837.0 230.7,827.3 230.7,802.4 222.6,806.1 214.5,808.8 211.3,818.2 209.7,831.6 210.7,835.6" fill="#f3faf0"/>
<polygon points="249.6,803.5 244.6,798.1 240.0,802.1 234.7,803.5 231.2,802.1 230.7,802.4 230.7,827.3 258.8,831.3" fill="#70c17c"/>
<polygon points="230.7,827.3 222.7,837.0 230.3,849.6 239.1,852.8 262.1,840.0 261.2,833.7 258.8,831.3" fill="#70c17c"/>
<polygon points="261.2,833.7 283.2,813.2 265.5,795.5 257.5,803.5 250.8,804.8 249.6,803.5 258.8,831.3" fill="#f3faf0"/>
<polygon points="283.2,813.2 293.5,813.2 294.1,812.8 289.3,779.3 278.9,778.0 274.9,780.7 268.2,792.8 265.5,795.5" fill="#dcf0d6"/>
<polygon points="315.0,788.4 302.5,772.4 300.4,774.0 289.7,779.4 289.3,779.3 294.1,812.8 308.4,810.4" fill="#dcf0d6"/>
<polygon points="341.5,785.8 337.3,757.4 336.6,760.7 329.9,764.7 319.2,771.4 309.8,778.0 309.0,773.2 304.4,770.8 302.5,772.4 315.0,788.4" fill="#f3faf0"/>
<polygon points="310.1,811.5 329.5,815.0 352.9,808.2 350.7,795.4 341.5,785.8 315.0,788.4 308.4,810.4" fill="#dcf0d6"/>
<polygon points="295.1,843.0 293.5,813.2 283.2,813.2 261.2,833.7 262.1,840.0 264.1,842.0 281.3,848.9" fill="#70c17c"/>
<polygon points="315.6,841.8 310.1,811.5 308.4,810.4 294.1,812.8 293.5,813.2 295.1,843.0 307.0,847.4" fill="#47ae64"/>
<polygon points="324.8,841.0 329.5,815.0 310.1,811.5 315.6,841.8" fill="#f3faf0"/>
<polygon points="356.0,811.6 352.9,808.2 329.5,815.0 324.8,841.0 336.3,846.2" fill="#bce2b5"/>
<polygon points="161.1,891.3 146.0,862.7 134.1,863.7 126.0,873.1 130.0,879.7 131.4,890.5 138.1,901.2 140.7,905.2" fill="#9ad494"/>
<polygon points="161.1,891.3 163.7,891.3 174.6,876.3 156.1,843.9 149.6,853.0 150.2,862.4 146.0,862.7" fill="#9ad494"/>
<polygon points="174.6,876.3 182.5,871.2 182.5,851.9 177.0,854.3 168.9,851.6 164.9,845.0 160.3,839.1 156.9,842.8 156.1,843.9" fill="#f3faf0"/>
<polygon points="199.2,847.2 195.8,849.0 186.4,850.3 182.5,851.9 182.5,871.2 195.8,875.1 207.9,866.8" fill="#dcf0d6"/>
<polygon points="182.5,871.2 174.6,876.3 163.7,891.3 170.8,896.4 184.7,898.3 196.8,891.9 195.8,875.1" fill="#dcf0d6"/>
<polygon points="214.4,868.6 207.9,866.8 195.8,875.1 196.8,891.9 208.8,896.5 216.0,892.1 218.1,873.7" fill="#f3faf0"/>
<polygon points="230.3,849.6 222.7,837.0 210.7,835.6 212.4,842.8 207.8,845.0 201.1,846.3 199.2,847.2 207.9,866.8 214.4,868.6" fill="#70c17c"/>
<polygon points="242.0,876.7 243.8,873.8 239.1,852.8 230.3,849.6 214.4,868.6 218.1,873.7" fill="#70c17c"/>
<polygon points="262.1,840.0 239.1,852.8 243.8,873.8 260.1,870.2 264.1,842.0" fill="#dcf0d6"/>
<polygon points="264.1,842.0 260.1,870.2 277.3,881.0 283.8,878.8 284.3,878.0 281.3,848.9" fill="#dcf0d6"/>
<polygon points="284.3,878.0 310.2,865.0 307.0,847.4 295.1,843.0 281.3,848.9" fill="#bce2b5"/>
<polygon points="336.3,846.2 324.8,841.0 315.6,841.8 307.0,847.4 310.2,865.0 318.8,871.0 341.0,855.2" fill="#219b4c"/>
<polygon points="346.0,890.1 349.1,859.2 341.0,855.2 318.8,871.0 319.7,874.8 343.0,891.4" fill="#219b4c"/>
<polygon points="243.8,873.8 242.0,876.7 243.5,894.9 248.3,899.3 263.4,900.9 277.3,881.0 260.1,870.2" fill="#9ad494"/>
<polygon points="216.0,892.1 230.3,897.5 243.5,894.9 242.0,876.7 218.1,873.7" fill="#9ad494"/>
<polygon points="319.7,874.8 318.8,871.0 310.2,865.0 284.3,878.0 283.8,878.8 296.0,892.5 310.5,890.9" fill="#bce2b5"/>
<polygon points="318.4,900.3 341.9,893.1 343.0,891.4 319.7,874.8 310.5,890.9" fill="#bce2b5"/>
<polygon points="296.0,892.5 294.7,905.3 301.9,913.7 316.7,909.5 318.4,900.3 310.5,890.9" fill="#bce2b5"/>
<polygon points="277.3,881.0 263.4,900.9 272.0,915.0 294.7,905.3 296.0,892.5 283.8,878.8" fill="#47ae64"/>
<polygon points="301.9,913.7 294.7,905.3 272.0,915.0 272.0,919.4 293.5,938.2 294.4,938.0 299.9,931.8" fill="#47ae64"/>
<polygon points="246.4,943.3 272.0,919.4 272.0,915.0 263.4,900.9 248.3,899.3 236.8,931.9 239.5,942.4" fill="#70c17c"/>
<polygon points="230.3,897.5 222.4,917.4 236.8,931.9 248.3,899.3 243.5,894.9" fill="#70c17c"/>
<polygon points="208.8,896.5 208.8,914.4 222.4,917.4 230.3,897.5 216.0,892.1" fill="#9ad494"/>
<polygon points="196.8,891.9 184.7,898.3 197.3,923.4 208.8,914.4 208.8,896.5" fill="#47ae64"/>
<polygon points="170.8,896.4 175.4,930.8 184.4,933.2 195.8,926.6 197.3,923.4 184.7,898.3" fill="#9ad494"/>
<polygon points="161.1,891.3 140.7,905.2 143.4,909.2 152.8,901.2 155.5,903.8 159.5,914.5 163.6,927.9 165.1,933.4 175.4,930.8 170.8,896.4 163.7,891.3" fill="#9ad494"/>
<polygon points="187.6,951.7 184.4,933.2 175.4,930.8 165.1,933.4 166.2,937.3 159.5,938.6 160.9,954.7 162.2,966.7 164.2,967.9" fill="#47ae64"/>
<polygon points="195.8,926.6 184.4,933.2 187.6,951.7 204.3,965.4 221.6,961.6 227.3,951.4" fill="#47ae64"/>
<polygon points="239.5,942.4 236.8,931.9 222.4,917.4 208.8,914.4 197.3,923.4 195.8,926.6 227.3,951.4" fill="#70c17c"/>
<polygon points="187.6,951.7 164.2,967.9 168.9,970.7 175.6,974.8 183.7,980.1 187.7,980.1 189.7,985.9 204.3,965.4" fill="#9ad494"/>
<polygon points="204.3,965.4 189.7,985.9 191.7,992.2 194.4,1005.5 196.0,1010.3 230.5,983.2 221.6,961.6" fill="#47ae64"/>
<polygon points="260.7,954.9 246.4,943.3 239.5,942.4 227.3,951.4 221.6,961.6 230.5,983.2 250.5,997.0 253.8,996.6 260.7,987.0" fill="#47ae64"/>
<polygon points="230.5,983.2 196.0,1010.3 197.1,1013.6 209.2,1005.5 210.5,1010.9 225.3,1016.2 234.7,1010.9 241.4,1002.9 246.7,997.5 250.5,997.0" fill="#47ae64"/>
<polygon points="288.2,980.1 293.0,973.9 283.1,953.2 260.7,954.9 260.7,987.0" fill="#47ae64"/>
<polygon points="260.7,954.9 283.1,953.2 293.5,938.2 272.0,919.4 246.4,943.3" fill="#47ae64"/>
<polygon points="293.5,938.2 283.1,953.2 293.0,973.9 314.5,973.9 322.6,960.2 294.4,938.0" fill="#0a8a3e"/>
<polygon points="299.9,931.8 294.4,938.0 322.6,960.2 333.1,954.6 325.3,928.7" fill="#219b4c"/>
<polygon points="333.1,954.6 343.9,955.8 362.4,944.7 362.9,943.2 361.3,929.1 338.0,917.5 328.3,922.1 325.3,928.7" fill="#219b4c"/>
<polygon points="341.9,893.1 338.0,917.5 361.3,929.1 367.7,917.6 365.9,895.1 346.0,890.1 343.0,891.4" fill="#219b4c"/>
<polygon points="328.3,922.1 316.7,909.5 301.9,913.7 299.9,931.8 325.3,928.7" fill="#9ad494"/>
<polygon points="316.7,909.5 328.3,922.1 338.0,917.5 341.9,893.1 318.4,900.3" fill="#9ad494"/>
<polygon points="343.9,955.8 333.1,954.6 322.6,960.2 314.5,973.9 322.7,996.0 332.3,996.3 351.8,984.6" fill="#219b4c"/>
<polygon points="378.1,974.9 377.0,960.9 362.4,944.7 343.9,955.8 351.8,984.6 355.7,986.1" fill="#47ae64"/>
<polygon points="362.6,855.9 349.1,859.2 346.0,890.1 365.9,895.1 370.6,891.9 364.9,857.5" fill="#70c17c"/>
<polygon points="364.9,857.5 370.6,891.9 384.9,888.8 389.0,885.1 386.7,861.9" fill="#9ad494"/>
<polygon points="389.0,885.1 409.4,885.1 414.1,862.8 398.9,851.0 386.7,861.9" fill="#9ad494"/>
<polygon points="379.2,811.8 358.8,813.1 366.4,841.1 391.7,839.0" fill="#70c17c"/>
<polygon points="398.9,851.0 398.9,843.8 391.7,839.0 366.4,841.1 362.6,855.9 364.9,857.5 386.7,861.9" fill="#47ae64"/>
<polygon points="403.9,838.8 403.9,809.9 390.8,805.4 379.2,811.8 391.7,839.0 398.9,843.8" fill="#9ad494"/>
<polygon points="425.1,834.1 433.0,816.7 426.5,810.2 422.6,806.3 403.9,809.9 403.9,838.8" fill="#9ad494"/>
<polygon points="398.9,851.0 414.1,862.8 435.7,857.9 425.1,834.1 403.9,838.8 398.9,843.8" fill="#bce2b5"/>
<polygon points="458.0,850.6 457.3,840.9 449.3,832.9 452.0,828.9 443.9,819.5 438.6,817.7 433.2,816.9 433.0,816.7 425.1,834.1 435.7,857.9 438.4,859.1" fill="#bce2b5"/>
<polygon points="435.7,857.9 414.1,862.8 409.4,885.1 412.5,888.0 431.9,893.7 440.7,888.7 438.4,859.1" fill="#bce2b5"/>
<polygon points="438.4,859.1 440.7,888.7 457.0,893.6 473.2,887.1 475.2,876.0 474.8,875.7 468.1,869.0 468.9,863.7 464.0,855.1 458.1,853.0 458.0,850.6" fill="#bce2b5"/>
<polygon points="365.9,895.1 367.7,917.6 397.3,917.6 384.9,888.8 370.6,891.9" fill="#dcf0d6"/>
<polygon points="397.3,917.6 401.7,920.4 412.5,888.0 409.4,885.1 389.0,885.1 384.9,888.8" fill="#bce2b5"/>
<polygon points="427.8,917.4 431.9,893.7 412.5,888.0 401.7,920.4 406.0,926.5" fill="#bce2b5"/>
<polygon points="448.5,930.9 455.5,928.5 457.0,926.7 457.0,893.6 440.7,888.7 431.9,893.7 427.8,917.4" fill="#bce2b5"/>
<polygon points="482.8,922.0 484.0,896.2 473.2,887.1 457.0,893.6 457.0,926.7" fill="#bce2b5"/>
<polygon points="484.0,896.2 482.8,922.0 491.0,928.7 520.4,922.8 520.4,922.6 516.9,919.9 516.9,914.5 518.2,906.5 515.0,899.8 505.6,898.5 507.2,895.3" fill="#bce2b5"/>
<polygon points="484.0,896.2 507.2,895.3 509.7,890.5 513.7,889.1 511.8,883.8 508.3,878.4 502.9,878.4 501.1,873.1 496.2,871.7 488.7,869.0 486.0,873.9 484.2,881.1 475.2,876.0 473.2,887.1" fill="#dcf0d6"/>
<polygon points="491.0,928.7 482.8,922.0 457.0,926.7 455.5,928.5 475.5,956.6 481.5,950.7 486.6,953.2" fill="#bce2b5"/>
<polygon points="491.0,928.7 486.6,953.2 486.8,953.3 493.6,960.0 501.6,952.0 513.7,945.3 520.4,942.6 525.7,940.0 524.4,934.6 520.4,927.9 520.4,922.8" fill="#bce2b5"/>
<polygon points="453.5,962.9 457.3,959.5 461.4,962.7 474.8,957.4 475.5,956.6 455.5,928.5 448.5,930.9 440.2,947.5" fill="#9ad494"/>
<polygon points="407.0,939.4 432.5,950.7 440.2,947.5 448.5,930.9 427.8,917.4 406.0,926.5 404.9,932.7" fill="#47ae64"/>
<polygon points="406.0,926.5 401.7,920.4 397.3,917.6 367.7,917.6 361.3,929.1 362.9,943.2 404.9,932.7" fill="#70c17c"/>
<polygon points="362.9,943.2 362.4,944.7 377.0,960.9 402.0,954.7 407.0,939.4 404.9,932.7" fill="#9ad494"/>
<polygon points="402.0,954.7 377.0,960.9 378.1,974.9 392.3,987.5 405.8,982.7 409.0,972.3" fill="#219b4c"/>
<polygon points="402.0,954.7 409.0,972.3 427.6,965.3 432.5,950.7 407.0,939.4" fill="#219b4c"/>
<polygon points="427.6,965.3 441.2,981.6 441.2,981.4 449.3,973.4 450.6,965.4 453.5,962.9 440.2,947.5 432.5,950.7" fill="#f3faf0"/>
<polygon points="427.6,965.3 409.0,972.3 405.8,982.7 421.8,995.5 423.8,989.5 437.2,988.1 441.2,981.6" fill="#bce2b5"/>
<polygon points="405.8,982.7 392.3,987.5 386.3,1003.1 390.1,1016.4 425.7,1006.3 425.1,1004.2 421.1,997.5 421.8,995.5" fill="#219b4c"/>
<polygon points="390.1,1016.4 388.0,1027.7 388.9,1026.9 391.6,1020.3 394.3,1021.6 405.0,1031.0 415.8,1033.6 426.5,1037.7 431.8,1029.6 427.8,1014.9 425.7,1006.3" fill="#219b4c"/>
<polygon points="363.7,1000.5 386.3,1003.1 392.3,987.5 378.1,974.9 355.7,986.1" fill="#47ae64"/>
<polygon points="390.1,1016.4 386.3,1003.1 363.7,1000.5 352.6,1022.7 354.9,1056.0 358.1,1055.0 360.8,1048.4 358.1,1043.0 360.8,1035.0 372.8,1031.0 382.2,1032.3 388.0,1027.7" fill="#70c17c"/>
<polygon points="322.7,996.0 317.8,1002.4 323.3,1031.1 329.9,1037.7 328.6,1048.4 335.3,1053.7 346.0,1058.5 354.9,1056.0 352.6,1022.7 332.3,996.3" fill="#0a8a3e"/>
<polygon points="351.8,984.6 332.3,996.3 352.6,1022.7 363.7,1000.5 355.7,986.1" fill="#219b4c"/>
<polygon points="273.8,1004.2 274.9,1006.9 276.2,1014.9 281.6,1018.9 287.0,1016.2 292.3,1020.3 292.7,1020.4 300.8,1005.9 292.8,998.5" fill="#47ae64"/>
<polygon points="292.7,1020.4 303.1,1025.6 308.4,1032.3 316.5,1032.3 317.8,1026.9 321.9,1029.6 323.3,1031.1 317.8,1002.4 300.8,1005.9" fill="#47ae64"/>
<polygon points="292.8,998.5 300.8,1005.9 317.8,1002.4 322.7,996.0 314.5,973.9 293.0,973.9 288.2,980.1" fill="#70c17c"/>
<polygon points="292.8,998.5 288.2,980.1 260.7,987.0 253.8,996.6 257.5,996.2 265.5,994.8 272.2,1000.2 273.8,1004.2" fill="#bce2b5"/>
<polygon points="376.7,771.0 354.3,734.3 351.4,739.2 346.0,748.6 337.9,754.0 337.3,757.4 341.5,785.8 350.7,795.4" fill="#dcf0d6"/>
<polygon points="349.1,859.2 362.6,855.9 366.4,841.1 358.8,813.1 356.0,811.6 336.3,846.2 341.0,855.2" fill="#70c17c"/>
<polygon points="376.7,771.0 377.2,771.1 404.9,763.0 404.5,760.7 398.3,748.6 397.0,740.6 392.9,737.9 390.3,732.6 383.6,731.2 379.5,732.0 372.8,728.5 362.1,728.0 355.4,732.6 354.3,734.3" fill="#f3faf0"/>
<polygon points="377.2,771.1 391.1,798.8 408.6,776.9 405.6,767.3 404.9,763.0" fill="#dcf0d6"/>
<polygon points="390.8,805.4 391.1,798.8 377.2,771.1 376.7,771.0 350.7,795.4 352.9,808.2 356.0,811.6 358.8,813.1 379.2,811.8" fill="#bce2b5"/>
<polygon points="422.6,806.3 422.5,806.1 415.8,807.0 409.8,803.5 409.0,794.1 409.8,780.7 408.6,776.9 391.1,798.8 390.8,805.4 403.9,809.9" fill="#9ad494"/>
<polygon points="343.9,752.5 337.3,757.2 336.6,760.7 336.1,761.0 340.1,770.0 341.4,782.5 336.4,792.5 338.9,800.0 335.1,812.5 340.1,820.1 347.6,818.8 350.1,813.8 366.4,811.3 367.6,807.5 372.6,797.5 368.9,787.5 366.4,778.8 360.1,767.5 367.6,757.5 372.6,745.0 380.1,737.5 379.0,731.7 376.6,730.5 370.4,728.4 364.8,728.1 360.5,729.1 355.4,732.6 351.4,739.2 346.0,748.6 345.1,749.2" fill="#05772f"/>
<polygon points="347.6,818.8 348.9,825.1 356.4,827.6 353.9,836.3 343.9,835.1 337.6,840.1 343.9,857.6 367.6,860.1 372.6,857.6 367.6,840.1 370.1,831.3 367.6,820.1 366.4,810.0 350.1,813.8" fill="#005e27"/>
<polygon points="380.1,737.5 372.6,745.0 367.6,757.5 360.1,767.5 367.6,777.5 375.1,782.5 381.4,787.5 385.1,772.5 392.6,767.5 403.9,762.5 397.6,750.0 395.1,740.0 394.5,739.0 392.9,737.9 390.3,732.6 386.2,731.7 380.1,732.5" fill="#f3faf0"/>
<polygon points="382.6,782.5 386.4,792.5 393.9,800.0 400.1,792.5 403.9,777.5 402.6,763.8 392.6,766.3 385.1,772.5" fill="#dcf0d6"/>
<polygon points="242.6,905.1 238.8,915.1 232.6,925.1 233.8,937.6 245.1,942.6 252.6,946.4 260.1,932.6 275.1,927.6 270.1,917.6 271.3,905.1 270.1,893.8 257.6,895.1 240.1,897.6" fill="#005e27"/>
<polygon points="206.3,967.6 200.0,965.1 195.0,975.1 190.0,985.1 191.2,990.6 191.7,992.2 193.9,1002.8 197.5,1011.4 204.0,1009.0 207.7,1006.5 208.8,997.6 215.1,993.9 223.8,996.4 226.3,986.4 233.8,982.6 235.1,967.6 227.6,960.1 212.6,957.6" fill="#05772f"/>
<polygon points="218.8,956.4 227.6,960.1 233.8,967.6 235.1,982.6 240.1,987.6 250.1,991.4 262.6,993.9 266.3,980.1 268.8,967.6 266.3,950.1 250.1,946.4 235.1,942.6 217.6,946.4" fill="#0a8a3e"/>
<polygon points="315.1,967.6 317.6,975.1 313.9,985.1 311.4,997.6 315.1,1008.9 320.1,1010.1 321.4,1001.4 335.1,1000.1 341.4,995.1 350.1,992.6 357.6,990.1 358.9,975.1 353.9,967.6 352.6,956.4 346.4,962.6 338.9,953.9 330.1,955.1 317.6,960.1" fill="#005e27"/>
<polygon points="440.2,892.6 435.2,900.1 425.2,906.3 421.4,917.6 428.9,922.6 435.2,930.1 445.2,925.1 455.2,926.4 465.2,927.6 463.9,920.1 467.7,910.1 456.4,900.1 450.2,888.8 442.7,885.1" fill="#0a8a3e"/>
<polygon points="481.9,907.8 478.2,915.3 484.4,919.1 489.4,921.6 493.2,930.4 505.7,929.1 508.2,935.4 515.7,929.1 510.7,920.4 515.7,910.3 513.2,905.3 510.5,899.2 505.6,898.5 507.6,894.5 500.7,899.1 498.2,892.8 490.7,890.3 479.4,897.8" fill="#47ae64"/>
<polygon points="319.7,1028.2 321.9,1029.6 329.9,1037.7 328.6,1048.4 335.3,1053.7 346.0,1058.5 358.1,1055.0 359.1,1052.5 359.6,1046.0 358.1,1043.0 360.8,1035.0 372.8,1031.0 382.2,1032.3 383.5,1031.3 383.9,1030.2 370.1,1023.9 356.4,1020.2 342.6,1023.9 340.1,1030.2 330.1,1022.7 318.9,1020.2" fill="#05772f"/>
<polygon points="126.0,873.1 134.1,863.7 150.2,862.4 149.6,853.0 156.9,842.8 160.3,839.1 164.9,845.0 168.9,851.6 177.0,854.3 186.4,850.3 195.8,849.0 201.1,846.3 207.8,845.0 212.4,842.8 209.7,831.6 211.3,818.2 214.5,808.8 222.6,806.1 231.2,802.1 234.7,803.5 240.0,802.1 244.6,798.1 250.8,804.8 257.5,803.5 268.2,792.8 274.9,780.7 278.9,778.0 289.7,779.4 300.4,774.0 304.4,770.8 309.0,773.2 309.8,778.0 319.2,771.4 329.9,764.7 336.6,760.7 337.9,754.0 346.0,748.6 351.4,739.2 355.4,732.6 362.1,728.0 372.8,728.5 379.5,732.0 383.6,731.2 390.3,732.6 392.9,737.9 397.0,740.6 398.3,748.6 404.5,760.7 405.6,767.3 409.8,780.7 409.0,794.1 409.8,803.5 415.8,807.0 422.5,806.1 426.5,810.2 433.2,816.9 438.6,817.7 443.9,819.5 452.0,828.9 449.3,832.9 457.3,840.9 458.1,853.0 464.0,855.1 468.9,863.7 468.1,869.0 474.8,875.7 484.2,881.1 486.0,873.9 488.7,869.0 496.2,871.7 501.1,873.1 502.9,878.4 508.3,878.4 511.8,883.8 513.7,889.1 509.7,890.5 505.6,898.5 515.0,899.8 518.2,906.5 516.9,914.5 516.9,919.9 520.4,922.6 520.4,927.9 524.4,934.6 525.7,940.0 520.4,942.6 513.7,945.3 501.6,952.0 493.6,960.0 486.8,953.3 481.5,950.7 474.8,957.4 461.4,962.7 457.3,959.5 450.6,965.4 449.3,973.4 441.2,981.4 437.2,988.1 423.8,989.5 421.1,997.5 425.1,1004.2 427.8,1014.9 431.8,1029.6 426.5,1037.7 415.8,1033.6 405.0,1031.0 394.3,1021.6 391.6,1020.3 388.9,1026.9 382.2,1032.3 372.8,1031.0 360.8,1035.0 358.1,1043.0 360.8,1048.4 358.1,1055.0 346.0,1058.5 335.3,1053.7 328.6,1048.4 329.9,1037.7 321.9,1029.6 317.8,1026.9 316.5,1032.3 308.4,1032.3 303.1,1025.6 292.3,1020.3 287.0,1016.2 281.6,1018.9 276.2,1014.9 274.9,1006.9 272.2,1000.2 265.5,994.8 257.5,996.2 246.7,997.5 241.4,1002.9 234.7,1010.9 225.3,1016.2 210.5,1010.9 209.2,1005.5 197.1,1013.6 194.4,1005.5 191.7,992.2 187.7,980.1 183.7,980.1 175.6,974.8 168.9,970.7 162.2,966.7 160.9,954.7 159.5,938.6 166.2,937.3 163.6,927.9 159.5,914.5 155.5,903.8 152.8,901.2 143.4,909.2 138.1,901.2 131.4,890.5 130.0,879.7" fill="none"/>
</g>
<defs><filter id="fbg" x="-10%" y="-10%" width="120%" height="120%"><feGaussianBlur stdDeviation="4"/></filter></defs>
<rect x="686" y="392" width="296" height="178" fill="#f8fbff" filter="url(#fbg)"/>
<g id="family" transform="translate(670,375) scale(0.2)" filter="url(#fblur)">
<defs><filter id="fblur" x="-5%" y="-5%" width="110%" height="110%"><feGaussianBlur stdDeviation="2.2"/></filter></defs>
<!-- grandpa -->
<rect x="68" y="555" width="13" height="420" rx="6" fill="#8b8f96"/>
<path d="M62 560 Q60 535 95 535 L120 545" stroke="#8b8f96" stroke-width="13" fill="none" stroke-linecap="round"/>
<path d="M205 600 L355 600 L350 945 L290 945 L278 700 L262 945 L200 945 Z" fill="#1d2a4d"/>
<path d="M235 310 Q290 280 350 315 L395 380 L380 600 L205 600 L215 520 L130 580 L100 540 L205 450 Z" fill="#22a4de"/>
<rect x="270" y="255" width="45" height="55" fill="#eeb07c"/>
<ellipse cx="290" cy="200" rx="58" ry="68" fill="#f1b680"/>
<ellipse cx="232" cy="190" rx="20" ry="32" fill="#a9aeb8"/><ellipse cx="352" cy="190" rx="20" ry="32" fill="#a9aeb8"/>
<circle cx="265" cy="205" r="19" fill="none" stroke="#b8741f" stroke-width="6"/><circle cx="318" cy="205" r="19" fill="none" stroke="#b8741f" stroke-width="6"/>
<ellipse cx="290" cy="245" rx="22" ry="10" fill="#e79aa0"/>
<ellipse cx="235" cy="965" rx="32" ry="16" fill="#2a2430"/><ellipse cx="318" cy="965" rx="32" ry="16" fill="#2a2430"/>
<!-- guitar/yellow -->
<path d="M285 510 Q330 480 350 540 L360 660 Q330 640 310 600 Q275 560 285 510 Z" fill="#f2b21d"/>
<!-- teen green shirt -->
<path d="M530 560 L655 560 L640 930 L600 930 L592 660 L578 930 L545 930 Z" fill="#1f78c4"/>
<path d="M500 310 Q590 270 680 310 L695 420 L650 450 L650 565 L525 565 L520 450 L490 420 Z" fill="#a4cf21"/>
<rect x="552" y="285" width="20" height="80" rx="8" fill="#222"/>
<rect x="578" y="415" width="70" height="110" fill="#1c9c86"/>
<rect x="568" y="250" width="45" height="50" fill="#e7a266"/>
<ellipse cx="590" cy="185" rx="62" ry="72" fill="#eeae72"/>
<path d="M515 180 Q510 110 525 85 L560 95 L600 80 L660 120 Q668 160 655 190 Q640 140 600 135 Q550 130 530 150 Z" fill="#2a2626"/>
<path d="M560 225 Q590 255 622 225 Z" fill="#fff"/>
<ellipse cx="555" cy="955" rx="30" ry="15" fill="#4a3a40"/><ellipse cx="630" cy="955" rx="30" ry="15" fill="#4a3a40"/>
<!-- boy red jacket -->
<path d="M378 630 L485 630 L470 930 L440 930 L432 700 L420 930 L390 930 Z" fill="#1d1b1f"/>
<path d="M350 420 Q430 380 510 420 L545 520 L520 560 L490 520 L490 650 L370 650 L372 520 L345 480 Z" fill="#e8262b"/>
<rect x="402" y="400" width="56" height="225" fill="#f7f5fb"/>
<path d="M470 400 L500 330 L520 420 Z" fill="#222"/>
<rect x="412" y="335" width="38" height="45" fill="#e7a266"/>
<ellipse cx="430" cy="280" rx="55" ry="62" fill="#eeae72"/>
<path d="M365 270 Q360 215 395 205 L495 192 L500 225 L485 240 Q492 262 490 285 Q470 240 440 250 Q400 240 385 290 Z" fill="#241f22"/>
<path d="M405 320 Q432 350 462 318 Z" fill="#fff"/>
<ellipse cx="395" cy="965" rx="28" ry="13" fill="#4a3a40"/><ellipse cx="462" cy="965" rx="28" ry="13" fill="#4a3a40"/>
<!-- girl red shirt -->
<rect x="668" y="810" width="32" height="150" fill="#f0b074"/><rect x="728" y="810" width="32" height="150" fill="#f0b074"/>
<path d="M655 730 L765 730 L770 825 L655 825 Z" fill="#5fa8e4"/>
<path d="M650 560 Q710 535 775 560 L790 650 L765 740 L655 740 Z" fill="#e03a3c"/>
<path d="M640 560 L665 545 L700 700 L670 710 Z" fill="#6a7fc8"/>
<path d="M620 650 L700 610 L745 690 L720 735 L640 720 Z" fill="#1d9c7b"/>
<rect x="690" y="505" width="38" height="45" fill="#e7a266"/>
<ellipse cx="710" cy="465" rx="55" ry="58" fill="#efb075"/>
<path d="M650 455 Q650 400 710 395 Q770 398 772 450 Q740 420 700 430 Q670 432 650 455 Z" fill="#2a2226"/>
<circle cx="752" cy="408" r="24" fill="#2a2226"/>
<path d="M688 495 Q712 520 735 493 Z" fill="#fff"/>
<ellipse cx="683" cy="972" rx="28" ry="13" fill="#27b7e6"/><ellipse cx="775" cy="972" rx="30" ry="13" fill="#27b7e6"/>
<!-- mom -->
<path d="M808 540 L935 540 L905 940 L878 940 L868 640 L855 940 L828 940 Z" fill="#2d3453"/>
<path d="M800 320 Q860 280 925 310 L935 545 L810 545 L815 450 L790 400 Z" fill="#86c440"/>
<circle cx="850" cy="345" r="26" fill="#e8dc3a"/><circle cx="850" cy="470" r="20" fill="#b5dd5a"/><circle cx="890" cy="500" r="18" fill="#6db33a"/>
<rect x="850" y="245" width="42" height="50" fill="#e7a266"/>
<ellipse cx="870" cy="190" rx="58" ry="68" fill="#eeae72"/>
<path d="M800 200 Q795 130 850 118 Q910 105 940 150 Q948 180 938 205 Q915 150 870 150 Q830 150 812 205 Z" fill="#25222a"/>
<ellipse cx="870" cy="95" rx="50" ry="38" fill="#25222a"/>
<path d="M842 232 Q870 260 900 230 Z" fill="#fff"/>
<ellipse cx="835" cy="960" rx="30" ry="14" fill="#2a2430"/><ellipse cx="912" cy="960" rx="30" ry="14" fill="#2a2430"/>
<!-- baby -->
<path d="M890 370 Q950 340 1010 370 L990 450 L960 470 L965 520 L930 520 L935 460 L900 430 Z" fill="#e8422b"/>
<ellipse cx="952" cy="295" rx="46" ry="48" fill="#f4b48a"/>
<path d="M905 285 Q910 240 955 238 Q1000 242 1005 280 Q975 262 950 268 Q925 268 905 285 Z" fill="#2a2226"/>
<circle cx="1000" cy="268" r="16" fill="#2a2226"/><circle cx="905" cy="270" r="14" fill="#2a2226"/>
<!-- dad -->
<path d="M1008 580 L1138 580 L1125 950 L1085 950 L1078 690 L1062 950 L1018 950 Z" fill="#1d2a4d"/>
<rect x="1066" y="600" width="10" height="340" fill="#7b85a0"/>
<path d="M990 330 Q1080 285 1170 330 L1195 470 L1180 540 L1140 530 L1140 585 L1005 585 L1005 480 L975 440 Z" fill="#f4b835"/>
<rect x="1055" y="255" width="44" height="50" fill="#e7a266"/>
<ellipse cx="1075" cy="195" rx="60" ry="70" fill="#eeae72"/>
<path d="M1008 195 Q1000 120 1040 100 L1110 98 L1150 130 Q1150 170 1140 200 Q1125 150 1075 150 Q1030 150 1018 200 Z" fill="#2b2a30"/>
<path d="M1045 232 Q1075 262 1106 230 Z" fill="#fff"/>
<ellipse cx="1040" cy="968" rx="32" ry="15" fill="#2a2430"/><ellipse cx="1110" cy="968" rx="32" ry="15" fill="#2a2430"/>
<!-- little girl blue dress -->
<rect x="1168" y="850" width="26" height="115" fill="#f0b074"/><rect x="1215" y="850" width="26" height="115" fill="#f0b074"/>
<path d="M1160 630 Q1200 610 1245 630 L1268 860 L1138 860 Z" fill="#aac5ef"/>
<rect x="1145" y="790" width="120" height="60" fill="#c9daf6"/>
<circle cx="1140" cy="492" r="26" fill="#2a2226"/><circle cx="1262" cy="492" r="26" fill="#2a2226"/>
<ellipse cx="1200" cy="550" rx="58" ry="55" fill="#efb075"/>
<path d="M1142 545 Q1150 495 1200 492 Q1255 495 1260 545 Q1230 515 1200 520 Q1170 515 1142 545 Z" fill="#2a2226"/>
<path d="M1182 578 Q1200 595 1220 577 Z" fill="#fff"/>
<ellipse cx="1178" cy="968" rx="22" ry="10" fill="#c8c3e6"/><ellipse cx="1228" cy="968" rx="22" ry="10" fill="#c8c3e6"/>
<!-- grandma -->
<rect x="1298" y="840" width="32" height="115" fill="#eeb07c"/><rect x="1385" y="840" width="32" height="115" fill="#eeb07c"/>
<path d="M1275 570 L1430 575 L1420 855 L1285 840 Q1265 700 1275 570 Z" fill="#1d2a4d"/>
<path d="M1300 350 Q1390 320 1470 360 Q1530 420 1510 500 L1440 560 L1430 590 L1290 590 L1300 480 L1270 450 Z" fill="#f3a9be"/>
<rect x="1322" y="345" width="52" height="240" fill="#e4e6f2"/>
<path d="M1445 420 L1480 470 L1440 545 L1425 520 Z" fill="#e990ab"/>
<rect x="1345" y="290" width="44" height="50" fill="#e7a266"/>
<ellipse cx="1370" cy="235" rx="58" ry="66" fill="#eeae72"/>
<path d="M1290 215 Q1290 150 1350 140 Q1400 135 1440 170 Q1455 200 1440 235 Q1420 185 1370 185 Q1320 185 1300 240 Z" fill="#8894a8"/>
<circle cx="1425" cy="150" r="40" fill="#8894a8"/>
<circle cx="1338" cy="235" r="19" fill="none" stroke="#b8741f" stroke-width="6"/><circle cx="1392" cy="235" r="19" fill="none" stroke="#b8741f" stroke-width="6"/>
<path d="M1265 800 L1300 790 L1340 830 L1300 940 L1270 930 Z" fill="#f5a9c4"/>
<ellipse cx="1310" cy="965" rx="28" ry="14" fill="#2a2430"/><ellipse cx="1395" cy="965" rx="28" ry="14" fill="#2a2430"/>
</g>

</svg>
</body>
</html>
